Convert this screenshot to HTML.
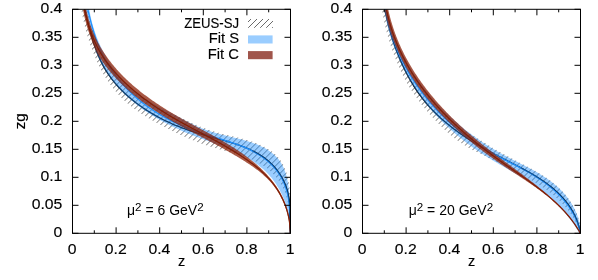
<!DOCTYPE html>
<html><head><meta charset="utf-8"><title>zg</title>
<style>
html,body{margin:0;padding:0;background:#fff;}
body{width:598px;height:280px;overflow:hidden;}
svg{display:block;}
text{font-family:"Liberation Sans",sans-serif;fill:#000;}
.tk{font-size:15px;stroke:#000;stroke-width:0.15px;}
.mu{font-size:14px;}
.sup{font-size:11.6px;}
</style></head><body>
<svg width="598" height="280" viewBox="0 0 598 280">
<rect width="598" height="280" fill="#fff"/>
<defs>
<pattern id="hatch" patternUnits="userSpaceOnUse" width="6" height="6" x="0.00" y="0">
<path d="M-1 7L7 -1M-1 1L1 -1M5 7L7 5" stroke="#5a5a5a" stroke-width="0.9" fill="none"/>
</pattern>
<pattern id="hatch1" patternUnits="userSpaceOnUse" width="6" height="6" x="3.40" y="0">
<path d="M-1 7L7 -1M-1 1L1 -1M5 7L7 5" stroke="#5a5a5a" stroke-width="0.9" fill="none"/>
</pattern>
<pattern id="hatch2" patternUnits="userSpaceOnUse" width="6" height="6" x="4.50" y="0">
<path d="M-1 7L7 -1M-1 1L1 -1M5 7L7 5" stroke="#5a5a5a" stroke-width="0.9" fill="none"/>
</pattern>
</defs>
<clipPath id="clip1"><rect x="72.50" y="9.30" width="218.00" height="224.00"/></clipPath>
<clipPath id="zclip1"><polygon points="87.82,9.55 88.03,10.83 88.26,12.11 88.50,13.39 88.75,14.67 89.01,15.95 89.28,17.22 89.56,18.49 89.86,19.76 90.17,21.03 90.48,22.29 90.81,23.55 91.15,24.81 91.51,26.07 91.87,27.32 92.24,28.57 92.63,29.81 93.03,31.05 93.43,32.29 93.85,33.52 94.28,34.75 94.72,35.98 95.18,37.20 95.64,38.42 96.11,39.63 96.60,40.84 97.10,42.04 97.60,43.24 98.12,44.43 98.65,45.62 99.19,46.80 99.74,47.98 100.30,49.15 100.88,50.32 101.46,51.48 102.05,52.63 102.66,53.78 103.27,54.92 103.90,56.06 104.54,57.19 105.18,58.31 105.84,59.43 106.51,60.54 107.19,61.64 107.88,62.74 108.58,63.83 109.29,64.91 110.01,65.99 110.74,67.05 111.48,68.11 112.24,69.17 113.00,70.21 113.77,71.25 114.56,72.28 115.35,73.30 116.15,74.31 116.97,75.31 117.79,76.31 118.62,77.30 119.47,78.27 120.32,79.24 121.19,80.20 122.06,81.15 122.95,82.09 123.84,83.03 124.75,83.95 125.66,84.86 126.59,85.76 127.52,86.66 128.46,87.54 129.42,88.41 130.38,89.28 131.36,90.13 132.34,90.97 133.33,91.80 134.34,92.62 135.35,93.43 136.37,94.23 137.40,95.02 138.45,95.79 139.50,96.56 140.56,97.31 141.63,98.05 142.70,98.79 143.79,99.51 144.88,100.22 145.97,100.92 147.08,101.61 148.20,102.28 149.32,102.94 150.46,103.58 151.60,104.21 152.76,104.82 153.92,105.42 155.08,106.01 156.25,106.59 157.43,107.16 158.61,107.72 159.79,108.27 160.98,108.82 162.17,109.36 163.36,109.89 164.55,110.42 165.75,110.95 166.94,111.47 168.14,111.99 169.33,112.51 170.52,113.03 171.72,113.55 172.91,114.07 174.10,114.59 175.28,115.12 176.47,115.64 177.65,116.17 178.82,116.71 180.00,117.24 181.17,117.78 182.33,118.31 183.50,118.85 184.66,119.39 185.81,119.94 186.97,120.48 188.12,121.02 189.27,121.56 190.41,122.10 191.56,122.64 192.70,123.18 193.84,123.71 194.98,124.24 196.12,124.77 197.26,125.28 198.40,125.78 199.55,126.27 200.70,126.75 201.86,127.21 203.02,127.67 204.18,128.11 205.35,128.54 206.52,128.96 207.70,129.37 208.88,129.77 210.07,130.16 211.26,130.55 212.46,130.92 213.66,131.29 214.86,131.65 216.08,132.00 217.29,132.35 218.51,132.69 219.74,133.02 220.97,133.35 222.21,133.68 223.45,134.00 224.70,134.31 225.96,134.63 227.22,134.94 228.48,135.25 229.75,135.56 231.02,135.86 232.30,136.17 233.58,136.48 234.87,136.79 236.15,137.11 237.44,137.42 238.73,137.75 240.02,138.07 241.30,138.41 242.59,138.75 243.87,139.09 245.15,139.45 246.43,139.82 247.70,140.19 248.97,140.58 250.23,140.97 251.49,141.39 252.74,141.81 253.99,142.25 255.22,142.70 256.45,143.17 257.67,143.66 258.88,144.16 260.08,144.68 261.26,145.23 262.44,145.79 263.60,146.37 264.75,146.98 265.88,147.60 267.00,148.25 268.11,148.93 269.19,149.62 270.26,150.34 271.30,151.09 272.32,151.86 273.32,152.66 274.30,153.48 275.24,154.32 276.16,155.20 277.05,156.10 277.91,157.02 278.74,157.98 279.53,158.96 280.29,159.97 281.02,161.01 281.70,162.07 282.36,163.15 282.98,164.26 283.57,165.39 284.12,166.53 284.65,167.70 285.14,168.88 285.61,170.08 286.05,171.30 286.46,172.53 286.84,173.77 287.20,175.03 287.54,176.30 287.85,177.58 288.14,178.86 288.40,180.16 288.65,181.46 288.87,182.77 289.08,184.09 289.27,185.40 289.44,186.73 289.59,188.05 289.73,189.38 289.85,190.70 289.96,192.03 290.05,193.35 290.14,194.68 290.21,196.00 290.27,197.32 290.32,198.64 290.36,199.96 290.39,201.28 290.42,202.60 290.44,203.91 290.45,205.22 290.46,206.53 290.47,207.84 290.47,209.15 290.47,210.45 290.47,211.75 290.47,213.05 290.47,214.34 290.47,215.63 290.47,216.92 290.48,218.20 290.49,219.48 290.50,220.75 290.52,222.02 290.55,223.29 290.58,224.55 290.62,225.81 290.68,227.06 290.74,228.30 290.81,229.55 290.89,230.78 290.99,232.01 291.10,233.24 290.40,233.30 290.37,232.07 290.34,230.83 290.31,229.58 290.28,228.33 290.25,227.06 290.21,225.79 290.16,224.52 290.11,223.23 290.06,221.95 289.99,220.66 289.92,219.37 289.84,218.07 289.75,216.78 289.65,215.48 289.54,214.18 289.41,212.89 289.28,211.60 289.13,210.30 288.96,209.02 288.78,207.73 288.58,206.45 288.37,205.18 288.14,203.91 287.89,202.65 287.62,201.40 287.33,200.15 287.02,198.92 286.69,197.69 286.33,196.48 285.95,195.27 285.55,194.08 285.13,192.90 284.67,191.74 284.20,190.59 283.70,189.45 283.18,188.32 282.63,187.21 282.06,186.12 281.47,185.04 280.86,183.97 280.22,182.92 279.56,181.88 278.87,180.86 278.17,179.85 277.44,178.86 276.70,177.89 275.93,176.93 275.13,175.99 274.32,175.07 273.49,174.16 272.63,173.28 271.76,172.40 270.87,171.55 269.95,170.72 269.02,169.90 268.06,169.10 267.09,168.32 266.10,167.55 265.08,166.82 264.05,166.10 262.99,165.42 261.92,164.75 260.83,164.10 259.73,163.48 258.62,162.87 257.49,162.28 256.36,161.70 255.21,161.14 254.06,160.60 252.90,160.06 251.74,159.54 250.56,159.03 249.38,158.53 248.19,158.06 246.99,157.61 245.78,157.17 244.56,156.75 243.34,156.34 242.12,155.94 240.89,155.55 239.66,155.17 238.43,154.80 237.20,154.42 235.97,154.05 234.74,153.69 233.52,153.32 232.30,152.95 231.07,152.58 229.85,152.21 228.63,151.86 227.41,151.51 226.18,151.16 224.96,150.81 223.73,150.47 222.51,150.13 221.28,149.79 220.06,149.45 218.84,149.11 217.62,148.77 216.40,148.42 215.18,148.07 213.96,147.72 212.74,147.36 211.53,146.99 210.31,146.62 209.10,146.23 207.89,145.84 206.69,145.44 205.49,145.02 204.29,144.60 203.09,144.16 201.90,143.72 200.70,143.28 199.50,142.83 198.31,142.38 197.11,141.92 195.92,141.45 194.73,140.98 193.54,140.51 192.36,140.03 191.17,139.54 189.99,139.05 188.81,138.55 187.63,138.05 186.46,137.54 185.28,137.03 184.11,136.51 182.94,135.99 181.77,135.47 180.60,134.93 179.44,134.40 178.28,133.85 177.11,133.31 175.96,132.75 174.80,132.20 173.64,131.63 172.49,131.07 171.34,130.50 170.19,129.92 169.04,129.34 167.90,128.75 166.75,128.16 165.61,127.57 164.46,126.97 163.32,126.37 162.18,125.77 161.04,125.16 159.91,124.55 158.77,123.93 157.63,123.32 156.50,122.69 155.36,122.07 154.22,121.44 153.08,120.80 151.95,120.15 150.81,119.50 149.68,118.85 148.55,118.18 147.42,117.51 146.29,116.83 145.17,116.15 144.05,115.45 142.93,114.75 141.82,114.04 140.72,113.31 139.62,112.58 138.53,111.84 137.44,111.09 136.36,110.32 135.28,109.55 134.22,108.76 133.16,107.97 132.11,107.16 131.07,106.33 130.04,105.50 129.02,104.65 128.01,103.79 127.01,102.93 126.03,102.05 125.05,101.16 124.09,100.25 123.14,99.34 122.20,98.42 121.27,97.49 120.36,96.55 119.45,95.59 118.56,94.63 117.67,93.66 116.80,92.68 115.94,91.69 115.09,90.69 114.26,89.68 113.43,88.67 112.62,87.64 111.81,86.61 111.02,85.56 110.24,84.51 109.47,83.45 108.71,82.38 107.97,81.31 107.23,80.23 106.51,79.13 105.80,78.04 105.10,76.93 104.41,75.81 103.74,74.69 103.08,73.56 102.43,72.42 101.80,71.27 101.18,70.12 100.58,68.96 99.98,67.79 99.40,66.62 98.83,65.44 98.26,64.26 97.71,63.07 97.17,61.88 96.64,60.68 96.11,59.48 95.60,58.28 95.09,57.08 94.58,55.87 94.09,54.66 93.60,53.45 93.11,52.23 92.63,51.02 92.16,49.80 91.70,48.58 91.24,47.35 90.80,46.12 90.36,44.89 89.93,43.66 89.52,42.42 89.11,41.19 88.70,39.95 88.31,38.70 87.93,37.46 87.55,36.21 87.18,34.96 86.82,33.71 86.47,32.46 86.12,31.21 85.78,29.96 85.45,28.70 85.13,27.45 84.82,26.19 84.51,24.94 84.21,23.68 83.91,22.42 83.63,21.17 83.35,19.91 83.08,18.65 82.81,17.39 82.55,16.14 82.30,14.88 82.05,13.63 81.81,12.37 81.58,11.12 81.35,9.87"/></clipPath>
<g clip-path="url(#clip1)">
<g clip-path="url(#zclip1)"><rect x="67.50" y="0" width="228.00" height="280" fill="url(#hatch1)"/></g>
<polyline points="84.50,9.30 84.80,10.52 85.11,11.74 85.41,12.97 85.72,14.20 86.03,15.43 86.33,16.67 86.64,17.90 86.95,19.15 87.27,20.39 87.58,21.64 87.90,22.89 88.22,24.13 88.55,25.39 88.88,26.64 89.21,27.89 89.55,29.14 89.89,30.40 90.23,31.65 90.59,32.90 90.94,34.15 91.31,35.40 91.67,36.65 92.05,37.90 92.43,39.15 92.82,40.39 93.22,41.63 93.62,42.87 94.03,44.11 94.45,45.34 94.88,46.57 95.32,47.80 95.76,49.02 96.22,50.24 96.68,51.45 97.16,52.66 97.65,53.87 98.14,55.07 98.65,56.26 99.17,57.45 99.70,58.63 100.24,59.80 100.79,60.97 101.36,62.13 101.94,63.28 102.53,64.43 103.13,65.57 103.75,66.70 104.38,67.82 105.03,68.93 105.69,70.04 106.37,71.13 107.06,72.22 107.76,73.29 108.48,74.36 109.21,75.42 109.95,76.47 110.71,77.51 111.48,78.54 112.27,79.57 113.06,80.58 113.87,81.58 114.69,82.58 115.52,83.57 116.37,84.54 117.22,85.51 118.08,86.47 118.96,87.42 119.85,88.36 120.74,89.29 121.65,90.22 122.56,91.13 123.49,92.03 124.42,92.93 125.36,93.82 126.32,94.69 127.28,95.56 128.24,96.42 129.22,97.27 130.20,98.11 131.19,98.94 132.19,99.76 133.20,100.58 134.21,101.38 135.23,102.18 136.25,102.96 137.28,103.74 138.32,104.51 139.36,105.27 140.41,106.02 141.46,106.76 142.51,107.49 143.57,108.21 144.64,108.93 145.71,109.63 146.78,110.33 147.86,111.01 148.94,111.69 150.02,112.36 151.11,113.02 152.20,113.67 153.30,114.31 154.40,114.95 155.50,115.57 156.61,116.19 157.72,116.80 158.84,117.40 159.96,117.99 161.08,118.58 162.21,119.16 163.35,119.73 164.48,120.29 165.62,120.84 166.77,121.39 167.92,121.93 169.07,122.46 170.23,122.98 171.39,123.50 172.55,124.01 173.72,124.51 174.89,125.01 176.07,125.50 177.25,125.98 178.44,126.46 179.63,126.93 180.82,127.39 182.02,127.85 183.22,128.30 184.43,128.74 185.64,129.18 186.85,129.61 188.07,130.03 189.29,130.45 190.52,130.86 191.75,131.27 192.99,131.67 194.23,132.07 195.47,132.46 196.72,132.84 197.97,133.22 199.23,133.60 200.49,133.97 201.75,134.33 203.01,134.69 204.28,135.05 205.56,135.41 206.83,135.76 208.10,136.11 209.38,136.46 210.66,136.81 211.94,137.15 213.22,137.50 214.50,137.85 215.78,138.19 217.05,138.54 218.33,138.89 219.61,139.24 220.89,139.59 222.16,139.94 223.43,140.30 224.70,140.66 225.97,141.02 227.24,141.39 228.50,141.77 229.75,142.14 231.01,142.53 232.26,142.92 233.50,143.31 234.74,143.71 235.98,144.12 237.21,144.54 238.44,144.96 239.65,145.39 240.87,145.83 242.07,146.28 243.27,146.74 244.46,147.21 245.64,147.69 246.82,148.18 247.99,148.68 249.15,149.20 250.30,149.72 251.44,150.26 252.57,150.81 253.69,151.37 254.80,151.95 255.90,152.54 256.99,153.15 258.07,153.77 259.14,154.41 260.20,155.06 261.24,155.73 262.28,156.41 263.29,157.12 264.30,157.83 265.29,158.57 266.27,159.33 267.24,160.10 268.19,160.89 269.13,161.71 270.05,162.54 270.96,163.39 271.85,164.27 272.73,165.16 273.59,166.08 274.43,167.02 275.26,167.98 276.07,168.96 276.86,169.96 277.64,170.99 278.39,172.03 279.13,173.09 279.84,174.17 280.54,175.27 281.21,176.39 281.86,177.52 282.49,178.66 283.09,179.82 283.67,181.00 284.23,182.18 284.76,183.38 285.27,184.59 285.75,185.81 286.20,187.04 286.62,188.29 287.02,189.54 287.39,190.79 287.73,192.06 288.04,193.33 288.32,194.61 288.57,195.89 288.79,197.18 288.98,198.47 289.15,199.76 289.29,201.06 289.41,202.36 289.51,203.66 289.59,204.97 289.66,206.28 289.71,207.58 289.75,208.89 289.77,210.20 289.79,211.51 289.80,212.82 289.81,214.12 289.81,215.43 289.81,216.73 289.81,218.03 289.82,219.33 289.82,220.63 289.83,221.92 289.85,223.21 289.88,224.49 289.92,225.77 289.98,227.04 290.04,228.30 290.13,229.56 290.23,230.82 290.35,232.06 290.50,233.30" fill="none" stroke="#000" stroke-width="1.35"/>
<polygon points="89.30,9.30 89.51,10.57 89.74,11.84 89.97,13.11 90.22,14.38 90.48,15.64 90.75,16.90 91.03,18.16 91.32,19.42 91.62,20.67 91.94,21.92 92.26,23.17 92.60,24.41 92.95,25.66 93.31,26.90 93.68,28.13 94.06,29.36 94.45,30.59 94.86,31.81 95.27,33.04 95.70,34.25 96.13,35.46 96.58,36.67 97.04,37.88 97.51,39.08 97.99,40.27 98.48,41.46 98.98,42.65 99.50,43.83 100.02,45.00 100.55,46.17 101.10,47.34 101.65,48.49 102.22,49.65 102.80,50.80 103.39,51.94 103.98,53.07 104.59,54.20 105.21,55.33 105.84,56.45 106.48,57.56 107.13,58.66 107.79,59.76 108.46,60.85 109.15,61.94 109.84,63.01 110.54,64.08 111.25,65.15 111.98,66.20 112.71,67.25 113.45,68.29 114.21,69.32 114.97,70.35 115.74,71.36 116.53,72.37 117.32,73.37 118.13,74.36 118.94,75.35 119.76,76.32 120.60,77.29 121.44,78.24 122.30,79.19 123.16,80.13 124.03,81.06 124.92,81.98 125.81,82.89 126.71,83.79 127.63,84.69 128.55,85.57 129.48,86.44 130.42,87.30 131.38,88.15 132.34,89.00 133.31,89.83 134.29,90.65 135.28,91.46 136.28,92.26 137.29,93.04 138.31,93.82 139.33,94.59 140.37,95.34 141.42,96.09 142.47,96.82 143.54,97.54 144.61,98.25 145.69,98.96 146.78,99.65 147.87,100.34 148.97,101.01 150.08,101.68 151.19,102.34 152.31,103.00 153.43,103.65 154.56,104.29 155.69,104.92 156.83,105.56 157.96,106.18 159.11,106.80 160.25,107.42 161.40,108.03 162.55,108.64 163.70,109.25 164.85,109.86 166.00,110.46 167.16,111.06 168.31,111.66 169.46,112.26 170.62,112.86 171.77,113.46 172.92,114.05 174.06,114.65 175.21,115.25 176.35,115.86 177.49,116.46 178.63,117.06 179.77,117.66 180.91,118.27 182.04,118.87 183.18,119.46 184.31,120.06 185.45,120.64 186.58,121.23 187.72,121.81 188.85,122.38 189.99,122.95 191.13,123.51 192.27,124.07 193.41,124.61 194.56,125.15 195.70,125.68 196.85,126.19 198.01,126.70 199.16,127.19 200.32,127.67 201.49,128.14 202.66,128.60 203.83,129.05 205.01,129.48 206.19,129.91 207.37,130.32 208.56,130.72 209.76,131.12 210.96,131.50 212.16,131.88 213.37,132.25 214.58,132.61 215.80,132.96 217.02,133.31 218.25,133.65 219.48,133.99 220.72,134.32 221.96,134.64 223.21,134.97 224.46,135.28 225.71,135.60 226.98,135.91 228.24,136.22 229.52,136.53 230.79,136.84 232.07,137.14 233.35,137.45 234.63,137.76 235.92,138.08 237.20,138.39 238.48,138.72 239.77,139.04 241.05,139.37 242.33,139.71 243.61,140.06 244.88,140.41 246.15,140.77 247.42,141.15 248.68,141.53 249.93,141.93 251.18,142.33 252.42,142.75 253.65,143.19 254.87,143.64 256.09,144.10 257.29,144.58 258.49,145.08 259.67,145.59 260.84,146.13 262.00,146.68 263.14,147.26 264.28,147.85 265.39,148.47 266.49,149.11 267.58,149.77 268.64,150.45 269.69,151.16 270.71,151.89 271.72,152.65 272.69,153.42 273.65,154.23 274.57,155.05 275.47,155.91 276.34,156.78 277.18,157.69 277.98,158.61 278.76,159.57 279.50,160.55 280.20,161.56 280.87,162.59 281.51,163.65 282.12,164.73 282.69,165.83 283.24,166.95 283.75,168.09 284.24,169.25 284.70,170.42 285.13,171.62 285.54,172.83 285.92,174.05 286.28,175.29 286.61,176.53 286.92,177.79 287.21,179.06 287.48,180.34 287.72,181.63 287.95,182.93 288.16,184.23 288.35,185.53 288.52,186.84 288.68,188.15 288.82,189.47 288.94,190.78 289.06,192.10 289.16,193.42 289.25,194.73 289.32,196.05 289.39,197.36 289.44,198.68 289.49,199.99 289.53,201.30 289.57,202.62 289.59,203.93 289.61,205.24 289.63,206.54 289.65,207.85 289.66,209.15 289.67,210.46 289.67,211.76 289.68,213.05 289.69,214.35 289.70,215.64 289.72,216.92 289.73,218.21 289.75,219.49 289.78,220.77 289.81,222.04 289.85,223.31 289.89,224.58 289.95,225.84 290.01,227.09 290.09,228.35 290.17,229.59 290.27,230.83 290.38,232.07 290.50,233.30 289.50,233.26 289.55,232.02 289.59,230.78 289.60,229.55 289.59,228.31 289.56,227.07 289.52,225.82 289.45,224.58 289.37,223.34 289.26,222.10 289.14,220.86 289.00,219.62 288.84,218.38 288.66,217.14 288.46,215.91 288.24,214.67 288.01,213.44 287.75,212.21 287.48,210.99 287.19,209.77 286.88,208.56 286.55,207.34 286.21,206.14 285.84,204.94 285.46,203.74 285.07,202.55 284.65,201.37 284.22,200.19 283.77,199.02 283.30,197.85 282.81,196.70 282.31,195.55 281.79,194.41 281.25,193.28 280.70,192.16 280.13,191.04 279.55,189.94 278.94,188.85 278.32,187.77 277.69,186.69 277.04,185.63 276.37,184.58 275.69,183.55 274.99,182.52 274.27,181.51 273.54,180.51 272.80,179.52 272.04,178.55 271.26,177.59 270.47,176.64 269.66,175.71 268.84,174.79 268.00,173.89 267.15,173.00 266.28,172.13 265.40,171.27 264.51,170.42 263.60,169.59 262.68,168.77 261.75,167.96 260.80,167.17 259.85,166.39 258.88,165.63 257.90,164.87 256.91,164.13 255.91,163.40 254.90,162.68 253.88,161.98 252.85,161.29 251.81,160.60 250.76,159.93 249.70,159.28 248.64,158.63 247.57,157.99 246.49,157.37 245.40,156.76 244.31,156.15 243.21,155.56 242.11,154.98 241.00,154.40 239.88,153.84 238.76,153.29 237.64,152.75 236.51,152.21 235.37,151.69 234.24,151.18 233.10,150.67 231.95,150.17 230.81,149.68 229.66,149.20 228.50,148.72 227.35,148.25 226.19,147.79 225.03,147.33 223.86,146.88 222.70,146.43 221.53,145.98 220.36,145.54 219.19,145.11 218.01,144.67 216.84,144.24 215.66,143.81 214.48,143.39 213.30,142.96 212.12,142.54 210.93,142.11 209.75,141.69 208.57,141.26 207.38,140.84 206.20,140.41 205.01,139.98 203.83,139.55 202.64,139.12 201.45,138.68 200.27,138.24 199.08,137.80 197.90,137.35 196.72,136.90 195.53,136.45 194.35,135.99 193.17,135.52 191.99,135.06 190.81,134.58 189.64,134.11 188.46,133.63 187.29,133.14 186.12,132.65 184.95,132.16 183.78,131.66 182.61,131.15 181.45,130.64 180.29,130.13 179.13,129.61 177.97,129.08 176.81,128.55 175.66,128.02 174.51,127.48 173.37,126.93 172.22,126.38 171.08,125.83 169.94,125.26 168.81,124.70 167.68,124.12 166.55,123.54 165.42,122.96 164.30,122.37 163.18,121.77 162.07,121.16 160.96,120.55 159.85,119.94 158.75,119.32 157.65,118.69 156.56,118.05 155.47,117.41 154.38,116.76 153.30,116.11 152.22,115.44 151.15,114.77 150.09,114.10 149.02,113.42 147.97,112.73 146.92,112.03 145.87,111.32 144.83,110.61 143.79,109.89 142.76,109.17 141.74,108.43 140.72,107.69 139.70,106.94 138.69,106.19 137.69,105.42 136.70,104.65 135.71,103.87 134.72,103.08 133.75,102.29 132.78,101.48 131.81,100.67 130.86,99.85 129.91,99.02 128.96,98.19 128.03,97.34 127.10,96.49 126.18,95.63 125.26,94.76 124.36,93.88 123.46,93.00 122.57,92.11 121.69,91.21 120.82,90.30 119.96,89.38 119.10,88.46 118.25,87.53 117.42,86.59 116.59,85.64 115.77,84.68 114.96,83.72 114.16,82.75 113.37,81.77 112.60,80.79 111.83,79.79 111.07,78.79 110.32,77.78 109.58,76.76 108.85,75.74 108.14,74.71 107.43,73.67 106.74,72.62 106.06,71.56 105.39,70.50 104.73,69.43 104.08,68.35 103.45,67.27 102.82,66.18 102.21,65.07 101.62,63.97 101.03,62.85 100.46,61.73 99.90,60.60 99.35,59.46 98.82,58.32 98.30,57.17 97.79,56.01 97.30,54.84 96.82,53.67 96.36,52.48 95.91,51.30 95.47,50.10 95.05,48.90 94.64,47.69 94.24,46.48 93.86,45.27 93.48,44.05 93.12,42.82 92.77,41.59 92.42,40.36 92.09,39.12 91.76,37.89 91.44,36.65 91.13,35.40 90.83,34.16 90.53,32.91 90.24,31.67 89.95,30.42 89.67,29.17 89.39,27.93 89.12,26.68 88.85,25.44 88.59,24.19 88.32,22.95 88.06,21.71 87.80,20.47 87.54,19.24 87.28,18.01 87.02,16.78 86.76,15.55 86.50,14.33 86.23,13.12 85.96,11.91 85.70,10.70 85.42,9.50" fill="rgb(30,144,255)" fill-opacity="0.45"/>
<polyline points="87.80,9.30 88.09,10.53 88.38,11.77 88.67,13.00 88.97,14.23 89.27,15.46 89.57,16.69 89.87,17.92 90.18,19.15 90.50,20.38 90.82,21.61 91.14,22.83 91.47,24.06 91.80,25.28 92.14,26.50 92.49,27.72 92.84,28.94 93.20,30.16 93.56,31.37 93.94,32.58 94.32,33.79 94.70,34.99 95.10,36.20 95.50,37.40 95.91,38.60 96.33,39.79 96.76,40.98 97.20,42.17 97.65,43.35 98.11,44.53 98.57,45.71 99.05,46.88 99.54,48.05 100.04,49.21 100.55,50.37 101.08,51.53 101.61,52.68 102.16,53.83 102.72,54.97 103.29,56.10 103.87,57.23 104.47,58.36 105.07,59.48 105.70,60.60 106.33,61.71 106.97,62.81 107.63,63.91 108.29,65.00 108.97,66.08 109.66,67.16 110.35,68.24 111.06,69.30 111.78,70.36 112.51,71.42 113.25,72.46 114.00,73.50 114.76,74.53 115.53,75.56 116.30,76.58 117.09,77.59 117.88,78.59 118.69,79.58 119.50,80.57 120.32,81.55 121.15,82.52 121.98,83.48 122.83,84.43 123.68,85.38 124.54,86.32 125.40,87.24 126.27,88.16 127.15,89.07 128.04,89.98 128.94,90.87 129.84,91.75 130.74,92.63 131.66,93.50 132.58,94.35 133.50,95.20 134.44,96.05 135.38,96.88 136.33,97.70 137.28,98.52 138.24,99.33 139.20,100.13 140.17,100.92 141.15,101.71 142.14,102.48 143.13,103.25 144.12,104.01 145.12,104.76 146.13,105.50 147.14,106.24 148.16,106.97 149.19,107.69 150.22,108.40 151.25,109.11 152.29,109.80 153.34,110.49 154.39,111.17 155.45,111.85 156.51,112.52 157.58,113.18 158.65,113.83 159.73,114.47 160.82,115.11 161.90,115.74 163.00,116.36 164.10,116.98 165.20,117.59 166.31,118.19 167.42,118.78 168.53,119.37 169.66,119.95 170.78,120.52 171.91,121.09 173.05,121.65 174.19,122.20 175.33,122.74 176.48,123.28 177.63,123.82 178.78,124.34 179.94,124.86 181.11,125.37 182.28,125.88 183.45,126.38 184.62,126.87 185.80,127.36 186.99,127.84 188.17,128.31 189.36,128.78 190.56,129.24 191.75,129.69 192.96,130.14 194.16,130.59 195.37,131.02 196.58,131.45 197.79,131.88 199.01,132.30 200.23,132.71 201.45,133.12 202.68,133.52 203.91,133.92 205.14,134.31 206.37,134.70 207.60,135.08 208.84,135.47 210.07,135.85 211.31,136.22 212.55,136.60 213.79,136.97 215.02,137.35 216.26,137.72 217.50,138.09 218.74,138.46 219.97,138.84 221.21,139.21 222.44,139.59 223.67,139.97 224.90,140.35 226.13,140.74 227.35,141.12 228.57,141.52 229.79,141.91 231.01,142.31 232.22,142.72 233.43,143.13 234.63,143.55 235.83,143.97 237.03,144.40 238.22,144.84 239.40,145.29 240.58,145.74 241.75,146.21 242.92,146.68 244.08,147.16 245.24,147.65 246.39,148.15 247.53,148.66 248.66,149.19 249.79,149.72 250.91,150.27 252.02,150.83 253.12,151.40 254.22,151.99 255.30,152.59 256.38,153.21 257.45,153.84 258.50,154.48 259.55,155.14 260.59,155.82 261.62,156.51 262.63,157.22 263.64,157.94 264.63,158.69 265.62,159.45 266.59,160.23 267.55,161.03 268.50,161.85 269.43,162.69 270.35,163.54 271.25,164.41 272.13,165.30 273.00,166.21 273.85,167.13 274.68,168.08 275.49,169.04 276.29,170.01 277.06,171.00 277.81,172.01 278.53,173.04 279.23,174.08 279.91,175.14 280.56,176.22 281.19,177.31 281.80,178.41 282.37,179.53 282.93,180.67 283.46,181.81 283.97,182.97 284.45,184.14 284.91,185.33 285.34,186.52 285.76,187.73 286.15,188.94 286.52,190.17 286.86,191.40 287.19,192.64 287.49,193.89 287.77,195.15 288.03,196.41 288.27,197.68 288.49,198.95 288.69,200.23 288.88,201.52 289.05,202.81 289.20,204.10 289.34,205.39 289.46,206.69 289.57,207.98 289.67,209.28 289.76,210.58 289.84,211.88 289.91,213.17 289.97,214.47 290.02,215.76 290.07,217.05 290.11,218.34 290.15,219.62 290.18,220.90 290.21,222.17 290.24,223.44 290.26,224.70 290.29,225.95 290.32,227.20 290.35,228.44 290.38,229.67 290.41,230.89 290.45,232.10 290.50,233.30" fill="none" stroke="rgb(30,144,255)" stroke-width="1.25"/>
<polyline points="252.57,150.81 253.69,151.37 254.80,151.95 255.90,152.54 256.99,153.15 258.07,153.77 259.14,154.41 260.20,155.06 261.24,155.73 262.28,156.41 263.29,157.12 264.30,157.83 265.29,158.57 266.27,159.33 267.24,160.10 268.19,160.89 269.13,161.71 270.05,162.54 270.96,163.39 271.85,164.27 272.73,165.16 273.59,166.08 274.43,167.02 275.26,167.98 276.07,168.96 276.86,169.96 277.64,170.99 278.39,172.03 279.13,173.09 279.84,174.17 280.54,175.27 281.21,176.39 281.86,177.52 282.49,178.66 283.09,179.82 283.67,181.00 284.23,182.18 284.76,183.38 285.27,184.59 285.75,185.81 286.20,187.04 286.62,188.29 287.02,189.54 287.39,190.79 287.73,192.06 288.04,193.33 288.32,194.61 288.57,195.89 288.79,197.18 288.98,198.47 289.15,199.76 289.29,201.06 289.41,202.36 289.51,203.66 289.59,204.97 289.66,206.28 289.71,207.58 289.75,208.89 289.77,210.20 289.79,211.51 289.80,212.82 289.81,214.12 289.81,215.43 289.81,216.73 289.81,218.03 289.82,219.33 289.82,220.63 289.83,221.92 289.85,223.21 289.88,224.49 289.92,225.77 289.98,227.04 290.04,228.30 290.13,229.56 290.23,230.82 290.35,232.06 290.50,233.30" fill="none" stroke="#000" stroke-opacity="0.6" stroke-width="0.8"/>
<polygon points="86.30,9.30 86.56,10.57 86.83,11.84 87.11,13.10 87.40,14.35 87.71,15.60 88.02,16.83 88.35,18.06 88.69,19.28 89.04,20.50 89.41,21.70 89.78,22.90 90.17,24.09 90.57,25.27 90.97,26.45 91.39,27.62 91.82,28.78 92.27,29.93 92.72,31.08 93.18,32.22 93.66,33.35 94.14,34.47 94.63,35.59 95.14,36.70 95.65,37.81 96.18,38.90 96.71,39.99 97.26,41.07 97.81,42.15 98.38,43.22 98.95,44.28 99.54,45.34 100.13,46.38 100.73,47.43 101.35,48.46 101.97,49.49 102.60,50.51 103.24,51.53 103.89,52.54 104.54,53.54 105.21,54.53 105.89,55.52 106.57,56.51 107.26,57.49 107.96,58.46 108.67,59.42 109.39,60.38 110.11,61.33 110.85,62.28 111.59,63.22 112.34,64.15 113.09,65.08 113.86,66.00 114.63,66.92 115.41,67.83 116.20,68.74 116.99,69.64 117.79,70.53 118.60,71.42 119.42,72.30 120.24,73.18 121.07,74.05 121.91,74.91 122.75,75.77 123.60,76.63 124.46,77.48 125.32,78.32 126.19,79.16 127.07,79.99 127.95,80.82 128.83,81.65 129.73,82.46 130.63,83.28 131.53,84.08 132.44,84.89 133.36,85.68 134.28,86.48 135.21,87.26 136.14,88.05 137.08,88.83 138.02,89.60 138.97,90.37 139.93,91.13 140.88,91.89 141.85,92.65 142.82,93.40 143.79,94.14 144.76,94.88 145.75,95.62 146.73,96.35 147.72,97.08 148.72,97.80 149.71,98.52 150.72,99.24 151.72,99.95 152.73,100.65 153.75,101.36 154.76,102.05 155.78,102.75 156.81,103.44 157.83,104.12 158.87,104.81 159.90,105.49 160.94,106.16 161.98,106.83 163.02,107.50 164.06,108.16 165.11,108.82 166.16,109.48 167.22,110.13 168.27,110.78 169.33,111.42 170.39,112.06 171.46,112.70 172.52,113.34 173.59,113.97 174.66,114.60 175.73,115.22 176.80,115.84 177.87,116.46 178.95,117.08 180.02,117.69 181.10,118.30 182.18,118.91 183.26,119.51 184.34,120.11 185.43,120.71 186.51,121.30 187.60,121.90 188.68,122.49 189.77,123.08 190.85,123.67 191.94,124.26 193.03,124.84 194.11,125.43 195.20,126.01 196.29,126.59 197.38,127.18 198.46,127.76 199.55,128.34 200.64,128.92 201.73,129.50 202.81,130.08 203.90,130.66 204.98,131.25 206.07,131.83 207.15,132.41 208.23,133.00 209.31,133.58 210.39,134.17 211.47,134.75 212.55,135.34 213.63,135.93 214.70,136.53 215.78,137.12 216.85,137.72 217.92,138.32 218.99,138.92 220.05,139.52 221.12,140.13 222.18,140.74 223.24,141.35 224.30,141.97 225.35,142.59 226.41,143.21 227.46,143.84 228.50,144.47 229.55,145.11 230.59,145.75 231.63,146.39 232.67,147.04 233.70,147.69 234.73,148.35 235.76,149.01 236.78,149.68 237.80,150.35 238.81,151.03 239.83,151.72 240.84,152.41 241.84,153.10 242.84,153.80 243.84,154.51 244.83,155.23 245.82,155.95 246.80,156.67 247.78,157.41 248.75,158.14 249.71,158.89 250.67,159.64 251.63,160.40 252.57,161.16 253.51,161.94 254.45,162.71 255.38,163.50 256.30,164.29 257.21,165.09 258.12,165.90 259.01,166.71 259.90,167.53 260.78,168.35 261.66,169.19 262.52,170.03 263.38,170.88 264.22,171.73 265.06,172.60 265.89,173.47 266.71,174.35 267.51,175.23 268.31,176.13 269.10,177.03 269.88,177.94 270.64,178.85 271.40,179.78 272.14,180.71 272.87,181.65 273.59,182.60 274.30,183.56 275.00,184.52 275.68,185.50 276.36,186.48 277.01,187.47 277.66,188.47 278.29,189.48 278.91,190.49 279.52,191.52 280.11,192.55 280.69,193.59 281.25,194.64 281.80,195.70 282.34,196.77 282.86,197.85 283.36,198.94 283.85,200.03 284.33,201.14 284.79,202.25 285.23,203.38 285.65,204.51 286.06,205.65 286.46,206.80 286.83,207.96 287.19,209.14 287.54,210.32 287.86,211.51 288.17,212.71 288.46,213.92 288.73,215.14 288.98,216.37 289.21,217.61 289.43,218.86 289.63,220.12 289.80,221.39 289.96,222.67 290.10,223.96 290.22,225.27 290.32,226.58 290.39,227.90 290.45,229.24 290.49,230.58 290.51,231.93 290.50,233.30 290.00,233.30 289.97,231.94 289.91,230.59 289.84,229.26 289.75,227.94 289.63,226.62 289.50,225.33 289.35,224.04 289.17,222.76 288.98,221.50 288.77,220.25 288.54,219.01 288.30,217.78 288.03,216.56 287.75,215.35 287.45,214.15 287.13,212.96 286.79,211.79 286.44,210.62 286.07,209.47 285.69,208.33 285.29,207.19 284.87,206.07 284.44,204.95 284.00,203.85 283.54,202.75 283.07,201.67 282.58,200.59 282.08,199.52 281.56,198.46 281.03,197.42 280.48,196.38 279.92,195.35 279.34,194.33 278.75,193.32 278.14,192.32 277.52,191.33 276.89,190.35 276.24,189.37 275.58,188.41 274.90,187.46 274.21,186.52 273.51,185.59 272.79,184.66 272.06,183.75 271.31,182.86 270.54,181.97 269.75,181.11 268.95,180.25 268.13,179.41 267.30,178.58 266.45,177.77 265.60,176.96 264.73,176.16 263.86,175.38 262.97,174.60 262.08,173.83 261.19,173.07 260.28,172.31 259.37,171.56 258.44,170.83 257.51,170.10 256.57,169.39 255.61,168.68 254.65,167.99 253.69,167.30 252.71,166.62 251.74,165.94 250.75,165.28 249.77,164.61 248.78,163.96 247.78,163.30 246.79,162.65 245.79,162.00 244.79,161.36 243.79,160.71 242.78,160.07 241.77,159.44 240.76,158.82 239.74,158.20 238.72,157.58 237.69,156.97 236.67,156.36 235.64,155.76 234.61,155.16 233.58,154.56 232.54,153.96 231.51,153.36 230.47,152.77 229.44,152.18 228.40,151.58 227.36,150.99 226.32,150.39 225.28,149.80 224.24,149.21 223.19,148.62 222.14,148.03 221.09,147.45 220.04,146.87 218.98,146.29 217.93,145.71 216.87,145.13 215.80,144.56 214.74,143.98 213.67,143.41 212.60,142.84 211.53,142.27 210.46,141.70 209.38,141.13 208.30,140.56 207.23,140.00 206.15,139.43 205.06,138.86 203.98,138.29 202.89,137.73 201.81,137.16 200.72,136.59 199.63,136.02 198.54,135.46 197.45,134.89 196.36,134.31 195.26,133.74 194.17,133.17 193.08,132.59 191.98,132.02 190.88,131.44 189.79,130.86 188.69,130.28 187.59,129.70 186.49,129.12 185.39,128.53 184.29,127.94 183.19,127.35 182.09,126.75 180.99,126.16 179.89,125.56 178.80,124.95 177.70,124.35 176.60,123.73 175.50,123.12 174.41,122.50 173.31,121.88 172.22,121.25 171.13,120.62 170.04,119.99 168.95,119.35 167.86,118.70 166.78,118.06 165.70,117.40 164.62,116.75 163.54,116.09 162.47,115.42 161.40,114.75 160.33,114.08 159.26,113.40 158.20,112.72 157.13,112.03 156.08,111.34 155.02,110.64 153.97,109.94 152.92,109.23 151.87,108.52 150.83,107.81 149.79,107.09 148.76,106.36 147.72,105.63 146.69,104.90 145.67,104.16 144.65,103.42 143.63,102.67 142.62,101.91 141.61,101.16 140.61,100.39 139.61,99.62 138.61,98.85 137.62,98.07 136.63,97.29 135.65,96.50 134.67,95.70 133.70,94.90 132.73,94.10 131.77,93.29 130.81,92.47 129.86,91.65 128.91,90.82 127.97,89.99 127.04,89.15 126.11,88.31 125.18,87.46 124.26,86.61 123.35,85.75 122.44,84.88 121.54,84.01 120.65,83.13 119.76,82.25 118.88,81.36 118.01,80.46 117.14,79.56 116.28,78.65 115.43,77.73 114.58,76.81 113.74,75.88 112.91,74.94 112.09,74.00 111.27,73.05 110.47,72.10 109.67,71.14 108.88,70.17 108.09,69.19 107.32,68.21 106.55,67.22 105.80,66.22 105.05,65.22 104.31,64.21 103.58,63.19 102.86,62.17 102.15,61.14 101.46,60.10 100.77,59.05 100.09,58.00 99.43,56.93 98.78,55.85 98.16,54.76 97.55,53.66 96.96,52.55 96.39,51.42 95.84,50.29 95.30,49.15 94.77,48.00 94.26,46.85 93.77,45.68 93.28,44.52 92.81,43.34 92.35,42.16 91.91,40.98 91.47,39.79 91.03,38.59 90.61,37.40 90.19,36.20 89.77,35.00 89.36,33.79 88.95,32.59 88.54,31.38 88.14,30.17 87.74,28.95 87.36,27.73 86.99,26.50 86.63,25.26 86.28,24.02 85.94,22.77 85.61,21.51 85.29,20.25 84.98,18.98 84.68,17.71 84.39,16.43 84.11,15.14 83.83,13.85 83.57,12.55 83.31,11.25 83.06,9.95" fill="rgb(139,34,8)" fill-opacity="0.75"/>
<polyline points="84.68,9.62 84.93,10.91 85.20,12.20 85.47,13.48 85.75,14.75 86.05,16.01 86.35,17.27 86.67,18.52 86.99,19.77 87.33,21.00 87.67,22.24 88.03,23.46 88.40,24.68 88.78,25.89 89.17,27.09 89.57,28.28 89.98,29.47 90.40,30.66 90.84,31.83 91.27,33.01 91.71,34.17 92.16,35.34 92.62,36.49 93.09,37.65 93.56,38.80 94.04,39.94 94.53,41.08 95.04,42.21 95.55,43.33 96.07,44.45 96.61,45.56 97.16,46.67 97.71,47.77 98.29,48.86 98.87,49.94 99.47,51.02 100.08,52.08 100.70,53.14 101.33,54.19 101.98,55.23 102.65,56.27 103.33,57.29 104.01,58.30 104.71,59.31 105.41,60.31 106.13,61.31 106.85,62.29 107.58,63.28 108.32,64.25 109.07,65.22 109.83,66.18 110.59,67.14 111.37,68.09 112.15,69.03 112.94,69.97 113.74,70.90 114.54,71.82 115.35,72.74 116.17,73.65 117.00,74.55 117.83,75.45 118.68,76.35 119.52,77.23 120.38,78.12 121.24,78.99 122.11,79.86 122.98,80.73 123.87,81.58 124.75,82.44 125.65,83.28 126.55,84.13 127.45,84.96 128.37,85.79 129.28,86.62 130.21,87.44 131.14,88.25 132.07,89.06 133.01,89.87 133.96,90.67 134.91,91.46 135.86,92.25 136.82,93.03 137.79,93.81 138.76,94.59 139.73,95.36 140.71,96.12 141.70,96.88 142.69,97.64 143.68,98.39 144.68,99.13 145.68,99.87 146.68,100.61 147.69,101.34 148.71,102.07 149.72,102.79 150.74,103.51 151.77,104.22 152.80,104.93 153.83,105.64 154.86,106.34 155.90,107.03 156.94,107.72 157.99,108.41 159.04,109.09 160.09,109.77 161.14,110.45 162.20,111.12 163.25,111.79 164.32,112.45 165.38,113.11 166.45,113.76 167.52,114.41 168.59,115.06 169.66,115.70 170.74,116.34 171.81,116.98 172.89,117.61 173.97,118.24 175.06,118.86 176.14,119.48 177.22,120.10 178.31,120.71 179.40,121.32 180.49,121.93 181.58,122.53 182.67,123.13 183.76,123.73 184.85,124.33 185.94,124.92 187.04,125.51 188.13,126.10 189.22,126.69 190.31,127.27 191.41,127.85 192.50,128.43 193.59,129.01 194.68,129.59 195.77,130.17 196.86,130.75 197.95,131.33 199.04,131.90 200.13,132.48 201.22,133.05 202.31,133.63 203.40,134.20 204.48,134.78 205.56,135.35 206.65,135.93 207.73,136.50 208.81,137.08 209.89,137.66 210.97,138.24 212.04,138.82 213.12,139.40 214.19,139.98 215.26,140.56 216.33,141.15 217.39,141.74 218.46,142.33 219.52,142.92 220.58,143.51 221.64,144.11 222.70,144.71 223.75,145.31 224.80,145.92 225.85,146.52 226.89,147.14 227.93,147.75 228.98,148.37 230.01,148.99 231.05,149.61 232.09,150.23 233.12,150.86 234.15,151.49 235.18,152.12 236.20,152.75 237.23,153.39 238.25,154.04 239.27,154.69 240.28,155.34 241.29,156.00 242.30,156.66 243.30,157.33 244.30,158.01 245.29,158.69 246.28,159.38 247.27,160.07 248.25,160.77 249.23,161.47 250.20,162.18 251.17,162.89 252.13,163.61 253.09,164.33 254.05,165.06 254.99,165.80 255.93,166.54 256.86,167.29 257.79,168.05 258.71,168.81 259.61,169.59 260.51,170.38 261.40,171.17 262.28,171.97 263.15,172.78 264.02,173.60 264.87,174.42 265.72,175.26 266.56,176.10 267.38,176.95 268.20,177.81 269.00,178.67 269.79,179.55 270.57,180.44 271.34,181.34 272.09,182.25 272.83,183.18 273.55,184.11 274.25,185.06 274.95,186.01 275.63,186.97 276.30,187.94 276.95,188.92 277.59,189.91 278.22,190.91 278.83,191.92 279.43,192.93 280.02,193.96 280.59,195.00 281.14,196.04 281.68,197.09 282.21,198.16 282.72,199.23 283.22,200.31 283.70,201.40 284.16,202.50 284.61,203.61 285.05,204.73 285.47,205.86 285.87,207.00 286.26,208.15 286.63,209.30 286.99,210.47 287.33,211.65 287.65,212.84 287.95,214.03 288.24,215.24 288.51,216.46 288.76,217.69 288.99,218.93 289.20,220.18 289.39,221.45 289.57,222.72 289.72,224.00 289.86,225.30 289.97,226.60 290.07,227.92 290.15,229.25 290.20,230.59 290.24,231.94 290.25,233.30" fill="none" stroke="rgb(130,30,5)" stroke-width="1.25"/>
</g>
<clipPath id="clip2"><rect x="362.50" y="9.30" width="218.00" height="224.00"/></clipPath>
<clipPath id="zclip2"><polygon points="385.34,9.64 385.61,10.83 385.89,12.02 386.18,13.22 386.48,14.41 386.78,15.59 387.09,16.77 387.41,17.95 387.74,19.13 388.07,20.30 388.41,21.47 388.75,22.64 389.10,23.81 389.46,24.97 389.83,26.12 390.20,27.28 390.58,28.43 390.97,29.58 391.36,30.72 391.76,31.86 392.16,33.00 392.58,34.14 393.00,35.27 393.42,36.40 393.85,37.52 394.29,38.64 394.74,39.76 395.19,40.88 395.65,41.99 396.11,43.10 396.59,44.20 397.06,45.30 397.55,46.40 398.04,47.49 398.53,48.59 399.04,49.67 399.54,50.76 400.06,51.84 400.58,52.92 401.11,53.99 401.64,55.06 402.18,56.13 402.72,57.19 403.28,58.25 403.83,59.31 404.40,60.36 404.97,61.41 405.54,62.46 406.12,63.50 406.71,64.54 407.30,65.57 407.90,66.61 408.50,67.63 409.11,68.66 409.73,69.68 410.35,70.70 410.98,71.71 411.61,72.72 412.25,73.73 412.89,74.73 413.54,75.73 414.19,76.72 414.85,77.72 415.52,78.70 416.19,79.69 416.86,80.67 417.54,81.65 418.23,82.62 418.92,83.59 419.62,84.55 420.32,85.52 421.03,86.47 421.74,87.43 422.46,88.38 423.18,89.33 423.91,90.27 424.65,91.21 425.38,92.14 426.13,93.07 426.88,94.00 427.63,94.92 428.39,95.84 429.15,96.76 429.92,97.67 430.69,98.58 431.47,99.48 432.25,100.38 433.04,101.28 433.83,102.17 434.62,103.06 435.43,103.94 436.23,104.82 437.04,105.70 437.86,106.57 438.68,107.44 439.50,108.31 440.33,109.17 441.16,110.02 442.00,110.87 442.84,111.72 443.69,112.57 444.54,113.41 445.39,114.24 446.25,115.07 447.11,115.90 447.98,116.73 448.85,117.54 449.73,118.36 450.61,119.17 451.49,119.98 452.38,120.78 453.28,121.58 454.18,122.36 455.10,123.13 456.03,123.89 456.97,124.63 457.92,125.37 458.87,126.09 459.84,126.80 460.81,127.51 461.79,128.20 462.78,128.89 463.77,129.56 464.76,130.23 465.76,130.90 466.77,131.56 467.78,132.21 468.79,132.86 469.80,133.50 470.81,134.14 471.83,134.78 472.85,135.41 473.87,136.04 474.89,136.67 475.91,137.30 476.93,137.92 477.95,138.55 478.96,139.18 479.98,139.81 481.00,140.43 482.02,141.06 483.03,141.69 484.04,142.33 485.06,142.96 486.07,143.60 487.07,144.24 488.08,144.88 489.09,145.52 490.11,146.15 491.12,146.78 492.14,147.40 493.16,148.03 494.19,148.64 495.21,149.26 496.24,149.87 497.27,150.47 498.31,151.07 499.34,151.67 500.38,152.27 501.42,152.85 502.47,153.44 503.52,154.02 504.57,154.60 505.62,155.17 506.67,155.74 507.73,156.30 508.79,156.86 509.85,157.42 510.91,157.98 511.97,158.53 513.04,159.09 514.10,159.64 515.17,160.19 516.23,160.74 517.30,161.29 518.36,161.84 519.43,162.38 520.49,162.93 521.56,163.48 522.62,164.03 523.68,164.58 524.74,165.14 525.79,165.69 526.85,166.25 527.90,166.81 528.95,167.37 530.00,167.93 531.05,168.50 532.09,169.07 533.13,169.65 534.16,170.23 535.19,170.81 536.22,171.40 537.24,171.99 538.26,172.59 539.28,173.20 540.29,173.81 541.29,174.43 542.29,175.05 543.28,175.68 544.27,176.32 545.25,176.97 546.22,177.62 547.19,178.28 548.15,178.96 549.11,179.64 550.05,180.33 550.99,181.03 551.92,181.74 552.84,182.47 553.76,183.20 554.66,183.94 555.56,184.70 556.45,185.47 557.32,186.25 558.19,187.04 559.05,187.85 559.90,188.67 560.74,189.50 561.57,190.34 562.38,191.20 563.19,192.08 563.99,192.97 564.77,193.87 565.54,194.79 566.30,195.73 567.05,196.68 567.78,197.64 568.50,198.62 569.21,199.61 569.90,200.61 570.58,201.63 571.24,202.66 571.88,203.70 572.50,204.75 573.11,205.81 573.70,206.88 574.27,207.96 574.82,209.06 575.34,210.16 575.85,211.26 576.34,212.38 576.80,213.50 577.24,214.63 577.66,215.77 578.05,216.92 578.42,218.06 578.77,219.22 579.08,220.38 579.38,221.54 579.64,222.71 579.88,223.88 580.08,225.05 580.26,226.23 580.41,227.40 580.53,228.58 580.62,229.76 580.68,230.94 580.71,232.12 580.70,233.30 580.30,233.30 579.91,232.12 579.51,230.95 579.08,229.79 578.64,228.65 578.18,227.51 577.70,226.39 577.21,225.28 576.69,224.18 576.16,223.10 575.62,222.02 575.06,220.96 574.48,219.90 573.89,218.86 573.28,217.83 572.65,216.81 572.02,215.80 571.36,214.81 570.70,213.82 570.02,212.85 569.32,211.88 568.61,210.93 567.89,209.99 567.16,209.06 566.42,208.14 565.66,207.23 564.89,206.33 564.11,205.44 563.32,204.57 562.52,203.70 561.70,202.84 560.88,202.00 560.05,201.16 559.20,200.34 558.35,199.52 557.49,198.72 556.62,197.93 555.74,197.14 554.85,196.37 553.95,195.60 553.05,194.85 552.14,194.11 551.22,193.37 550.29,192.65 549.36,191.93 548.42,191.22 547.48,190.52 546.52,189.83 545.56,189.15 544.60,188.47 543.63,187.81 542.65,187.15 541.67,186.49 540.68,185.85 539.69,185.21 538.69,184.57 537.68,183.95 536.68,183.32 535.66,182.71 534.65,182.10 533.62,181.49 532.60,180.89 531.57,180.30 530.54,179.71 529.50,179.12 528.46,178.54 527.42,177.96 526.38,177.38 525.33,176.81 524.28,176.24 523.22,175.68 522.17,175.12 521.11,174.55 520.05,174.00 518.99,173.44 517.93,172.88 516.87,172.33 515.80,171.78 514.74,171.23 513.67,170.68 512.61,170.13 511.54,169.58 510.47,169.03 509.41,168.48 508.34,167.93 507.27,167.38 506.20,166.84 505.13,166.29 504.06,165.76 502.98,165.22 501.91,164.68 500.83,164.15 499.76,163.61 498.68,163.08 497.61,162.55 496.54,162.01 495.46,161.48 494.39,160.94 493.32,160.41 492.25,159.87 491.18,159.32 490.11,158.78 489.04,158.23 487.98,157.68 486.91,157.13 485.85,156.57 484.79,156.00 483.73,155.45 482.66,154.90 481.58,154.37 480.50,153.84 479.41,153.32 478.32,152.80 477.22,152.28 476.12,151.76 475.03,151.24 473.94,150.70 472.85,150.16 471.77,149.60 470.71,149.02 469.65,148.42 468.62,147.80 467.59,147.16 466.56,146.52 465.54,145.87 464.52,145.22 463.50,144.56 462.49,143.90 461.48,143.22 460.48,142.54 459.48,141.86 458.48,141.16 457.49,140.46 456.51,139.74 455.53,139.02 454.56,138.28 453.60,137.54 452.64,136.78 451.70,136.01 450.77,135.23 449.84,134.43 448.93,133.62 448.03,132.80 447.12,131.98 446.23,131.15 445.33,130.32 444.44,129.48 443.56,128.64 442.68,127.79 441.80,126.94 440.93,126.08 440.06,125.22 439.19,124.36 438.33,123.49 437.47,122.61 436.62,121.74 435.77,120.85 434.93,119.97 434.09,119.07 433.26,118.18 432.43,117.28 431.60,116.37 430.78,115.46 429.97,114.55 429.16,113.63 428.35,112.71 427.55,111.78 426.76,110.85 425.97,109.91 425.19,108.97 424.41,108.03 423.64,107.08 422.87,106.13 422.11,105.17 421.35,104.21 420.60,103.24 419.86,102.27 419.12,101.30 418.39,100.32 417.66,99.34 416.94,98.35 416.22,97.36 415.52,96.37 414.81,95.37 414.12,94.37 413.43,93.37 412.74,92.36 412.06,91.34 411.39,90.33 410.72,89.31 410.06,88.28 409.41,87.25 408.77,86.22 408.14,85.18 407.52,84.13 406.91,83.07 406.31,82.01 405.73,80.94 405.15,79.87 404.59,78.79 404.03,77.71 403.48,76.62 402.94,75.53 402.41,74.44 401.89,73.34 401.38,72.24 400.87,71.14 400.37,70.03 399.87,68.92 399.38,67.81 398.89,66.70 398.41,65.59 397.93,64.47 397.45,63.36 396.97,62.24 396.50,61.13 396.03,60.01 395.57,58.89 395.12,57.76 394.67,56.64 394.23,55.51 393.80,54.38 393.37,53.24 392.95,52.11 392.53,50.97 392.12,49.83 391.72,48.68 391.33,47.54 390.94,46.39 390.56,45.24 390.18,44.08 389.81,42.93 389.45,41.77 389.09,40.61 388.74,39.45 388.40,38.29 388.06,37.12 387.73,35.95 387.41,34.78 387.09,33.61 386.78,32.44 386.47,31.26 386.17,30.08 385.88,28.91 385.59,27.72 385.31,26.54 385.04,25.35 384.77,24.17 384.51,22.98 384.25,21.79 384.01,20.60 383.76,19.40 383.53,18.21 383.30,17.01 383.07,15.81 382.85,14.61 382.64,13.40 382.43,12.20 382.23,10.99 382.04,9.79"/></clipPath>
<g clip-path="url(#clip2)">
<g clip-path="url(#zclip2)"><rect x="357.50" y="0" width="228.00" height="280" fill="url(#hatch2)"/></g>
<polyline points="385.00,9.30 385.22,10.44 385.44,11.58 385.67,12.73 385.91,13.88 386.15,15.02 386.39,16.17 386.65,17.33 386.91,18.48 387.17,19.63 387.44,20.79 387.72,21.94 388.00,23.10 388.29,24.26 388.58,25.41 388.88,26.57 389.19,27.73 389.50,28.89 389.82,30.05 390.14,31.21 390.47,32.37 390.81,33.53 391.15,34.69 391.50,35.84 391.85,37.00 392.22,38.16 392.58,39.32 392.96,40.47 393.33,41.63 393.72,42.78 394.11,43.93 394.51,45.08 394.91,46.23 395.32,47.38 395.74,48.53 396.16,49.67 396.59,50.82 397.02,51.96 397.46,53.10 397.91,54.23 398.37,55.37 398.83,56.50 399.29,57.63 399.77,58.76 400.25,59.88 400.73,61.01 401.22,62.13 401.72,63.24 402.23,64.35 402.74,65.46 403.26,66.57 403.78,67.67 404.31,68.77 404.85,69.87 405.39,70.96 405.94,72.05 406.50,73.13 407.06,74.21 407.63,75.28 408.21,76.35 408.79,77.42 409.38,78.48 409.98,79.54 410.58,80.59 411.19,81.64 411.81,82.68 412.43,83.72 413.06,84.75 413.70,85.78 414.34,86.80 414.99,87.81 415.65,88.82 416.31,89.82 416.98,90.82 417.66,91.81 418.34,92.80 419.04,93.78 419.73,94.75 420.44,95.72 421.15,96.68 421.87,97.63 422.59,98.58 423.33,99.52 424.06,100.45 424.81,101.38 425.56,102.29 426.32,103.20 427.09,104.11 427.86,105.00 428.64,105.89 429.43,106.78 430.23,107.65 431.03,108.52 431.83,109.38 432.64,110.24 433.46,111.09 434.29,111.93 435.12,112.77 435.96,113.60 436.80,114.42 437.65,115.24 438.51,116.05 439.37,116.85 440.24,117.65 441.11,118.44 441.99,119.23 442.87,120.01 443.76,120.78 444.65,121.55 445.55,122.32 446.46,123.08 447.37,123.83 448.29,124.58 449.21,125.32 450.13,126.05 451.06,126.79 452.00,127.51 452.94,128.23 453.88,128.95 454.83,129.66 455.79,130.37 456.75,131.07 457.71,131.76 458.68,132.46 459.65,133.14 460.63,133.83 461.61,134.50 462.59,135.18 463.58,135.85 464.57,136.51 465.57,137.17 466.57,137.83 467.57,138.48 468.58,139.13 469.59,139.78 470.61,140.42 471.63,141.06 472.65,141.69 473.68,142.32 474.70,142.95 475.74,143.57 476.77,144.19 477.81,144.81 478.85,145.42 479.89,146.03 480.94,146.64 481.99,147.24 483.04,147.84 484.10,148.44 485.16,149.03 486.22,149.62 487.28,150.21 488.34,150.80 489.41,151.38 490.48,151.96 491.55,152.54 492.63,153.12 493.70,153.69 494.78,154.26 495.86,154.83 496.94,155.40 498.03,155.97 499.11,156.53 500.20,157.09 501.29,157.65 502.38,158.21 503.47,158.77 504.56,159.33 505.65,159.89 506.74,160.44 507.83,161.00 508.92,161.56 510.01,162.12 511.10,162.67 512.18,163.23 513.27,163.79 514.36,164.35 515.44,164.91 516.53,165.48 517.61,166.04 518.69,166.61 519.77,167.18 520.84,167.75 521.91,168.32 522.98,168.89 524.05,169.47 525.12,170.06 526.18,170.64 527.23,171.23 528.29,171.82 529.34,172.42 530.38,173.02 531.43,173.62 532.46,174.23 533.50,174.84 534.53,175.46 535.55,176.08 536.57,176.71 537.58,177.34 538.59,177.98 539.59,178.63 540.59,179.28 541.57,179.94 542.56,180.60 543.54,181.27 544.51,181.95 545.47,182.63 546.43,183.33 547.37,184.03 548.32,184.73 549.25,185.45 550.18,186.17 551.10,186.90 552.01,187.64 552.91,188.39 553.80,189.14 554.68,189.91 555.56,190.69 556.43,191.47 557.28,192.26 558.13,193.07 558.97,193.88 559.80,194.70 560.61,195.54 561.42,196.38 562.21,197.24 562.99,198.10 563.77,198.97 564.53,199.86 565.27,200.76 566.01,201.66 566.73,202.58 567.44,203.51 568.13,204.45 568.81,205.41 569.48,206.37 570.13,207.34 570.77,208.33 571.39,209.33 572.00,210.34 572.59,211.37 573.17,212.40 573.73,213.45 574.27,214.51 574.80,215.59 575.31,216.67 575.80,217.77 576.27,218.88 576.73,220.01 577.17,221.15 577.59,222.30 577.99,223.47 578.38,224.65 578.74,225.84 579.08,227.05 579.41,228.27 579.71,229.51 580.00,230.76 580.26,232.02 580.50,233.30" fill="none" stroke="#000" stroke-width="1.35"/>
<polygon points="386.80,9.30 387.07,10.49 387.35,11.67 387.64,12.86 387.93,14.04 388.24,15.21 388.54,16.39 388.86,17.56 389.18,18.73 389.51,19.89 389.84,21.05 390.19,22.21 390.54,23.37 390.89,24.52 391.26,25.67 391.63,26.81 392.00,27.95 392.39,29.09 392.78,30.23 393.17,31.36 393.58,32.49 393.98,33.62 394.40,34.74 394.82,35.86 395.25,36.98 395.69,38.09 396.13,39.20 396.58,40.31 397.03,41.41 397.50,42.51 397.96,43.61 398.44,44.70 398.92,45.79 399.40,46.88 399.90,47.96 400.40,49.04 400.90,50.12 401.41,51.19 401.93,52.26 402.45,53.33 402.98,54.39 403.52,55.45 404.06,56.50 404.60,57.56 405.16,58.61 405.72,59.65 406.28,60.69 406.85,61.73 407.43,62.77 408.01,63.80 408.60,64.83 409.19,65.85 409.79,66.87 410.40,67.89 411.01,68.90 411.63,69.91 412.25,70.92 412.88,71.92 413.51,72.92 414.15,73.92 414.79,74.91 415.44,75.90 416.10,76.88 416.76,77.86 417.42,78.84 418.10,79.81 418.77,80.78 419.45,81.75 420.14,82.71 420.83,83.67 421.53,84.63 422.23,85.58 422.94,86.53 423.66,87.47 424.37,88.41 425.10,89.35 425.83,90.28 426.56,91.21 427.30,92.13 428.04,93.06 428.79,93.97 429.54,94.89 430.30,95.80 431.06,96.70 431.83,97.60 432.60,98.50 433.38,99.40 434.16,100.29 434.95,101.17 435.74,102.06 436.53,102.93 437.33,103.81 438.14,104.68 438.95,105.55 439.76,106.41 440.58,107.27 441.41,108.12 442.23,108.97 443.07,109.82 443.90,110.66 444.74,111.50 445.59,112.34 446.44,113.17 447.29,113.99 448.15,114.82 449.01,115.63 449.88,116.45 450.75,117.26 451.62,118.07 452.50,118.87 453.38,119.67 454.27,120.46 455.16,121.25 456.06,122.03 456.96,122.82 457.86,123.59 458.77,124.37 459.68,125.13 460.59,125.90 461.51,126.66 462.43,127.41 463.36,128.17 464.29,128.91 465.22,129.66 466.16,130.40 467.10,131.13 468.04,131.86 468.99,132.59 469.94,133.31 470.90,134.03 471.86,134.74 472.82,135.45 473.79,136.15 474.75,136.85 475.73,137.55 476.70,138.24 477.68,138.93 478.67,139.61 479.65,140.29 480.64,140.96 481.63,141.63 482.63,142.30 483.63,142.96 484.63,143.61 485.64,144.26 486.64,144.91 487.65,145.55 488.67,146.19 489.69,146.83 490.71,147.46 491.73,148.08 492.76,148.70 493.79,149.31 494.82,149.93 495.85,150.53 496.89,151.13 497.93,151.73 498.98,152.32 500.02,152.91 501.07,153.49 502.12,154.07 503.18,154.65 504.23,155.22 505.29,155.78 506.35,156.34 507.42,156.90 508.48,157.46 509.55,158.01 510.62,158.56 511.68,159.10 512.75,159.65 513.82,160.19 514.89,160.73 515.96,161.27 517.03,161.81 518.10,162.35 519.17,162.89 520.24,163.43 521.31,163.97 522.37,164.51 523.44,165.05 524.50,165.60 525.56,166.14 526.62,166.69 527.68,167.24 528.73,167.79 529.78,168.35 530.83,168.91 531.87,169.47 532.91,170.04 533.95,170.61 534.98,171.19 536.01,171.77 537.03,172.36 538.05,172.95 539.07,173.55 540.08,174.16 541.08,174.77 542.08,175.39 543.07,176.01 544.06,176.65 545.04,177.29 546.01,177.94 546.98,178.60 547.94,179.26 548.89,179.94 549.83,180.63 550.77,181.32 551.70,182.03 552.62,182.75 553.53,183.47 554.44,184.21 555.33,184.96 556.22,185.73 557.10,186.50 557.97,187.29 558.83,188.09 559.67,188.90 560.51,189.72 561.34,190.56 562.16,191.42 562.96,192.29 563.76,193.17 564.54,194.07 565.31,194.98 566.07,195.91 566.82,196.85 567.56,197.81 568.28,198.78 568.99,199.77 569.68,200.76 570.35,201.77 571.01,202.80 571.66,203.83 572.28,204.88 572.89,205.93 573.48,207.00 574.05,208.08 574.60,209.16 575.13,210.26 575.64,211.36 576.13,212.47 576.59,213.59 577.03,214.71 577.45,215.85 577.85,216.98 578.22,218.13 578.56,219.28 578.88,220.43 579.17,221.59 579.44,222.75 579.67,223.92 579.88,225.08 580.06,226.25 580.21,227.43 580.33,228.60 580.42,229.77 580.48,230.95 580.51,232.13 580.50,233.30 579.51,233.73 578.94,232.69 578.36,231.66 577.76,230.64 577.16,229.62 576.55,228.61 575.93,227.61 575.29,226.61 574.65,225.62 574.00,224.64 573.34,223.66 572.67,222.69 571.99,221.73 571.30,220.77 570.60,219.82 569.89,218.88 569.18,217.94 568.45,217.01 567.72,216.09 566.98,215.17 566.23,214.26 565.47,213.36 564.71,212.47 563.93,211.58 563.15,210.69 562.36,209.82 561.57,208.95 560.76,208.08 559.95,207.23 559.14,206.38 558.31,205.53 557.48,204.70 556.64,203.87 555.80,203.05 554.95,202.23 554.09,201.42 553.23,200.62 552.36,199.82 551.48,199.03 550.60,198.25 549.72,197.47 548.82,196.70 547.93,195.94 547.02,195.18 546.11,194.43 545.20,193.68 544.28,192.95 543.36,192.21 542.43,191.49 541.50,190.77 540.56,190.05 539.62,189.34 538.68,188.64 537.73,187.94 536.77,187.25 535.81,186.56 534.85,185.88 533.89,185.20 532.92,184.53 531.94,183.86 530.97,183.20 529.99,182.55 529.00,181.89 528.02,181.25 527.03,180.61 526.04,179.97 525.04,179.34 524.05,178.71 523.05,178.08 522.04,177.46 521.04,176.85 520.03,176.24 519.02,175.63 518.01,175.02 517.00,174.42 515.98,173.82 514.97,173.22 513.95,172.63 512.93,172.03 511.91,171.44 510.89,170.85 509.87,170.26 508.84,169.67 507.82,169.09 506.80,168.50 505.77,167.91 504.75,167.33 503.72,166.74 502.70,166.15 501.67,165.57 500.65,164.98 499.62,164.39 498.60,163.80 497.57,163.20 496.55,162.61 495.53,162.01 494.51,161.41 493.49,160.81 492.47,160.20 491.45,159.60 490.43,158.98 489.42,158.37 488.41,157.75 487.40,157.13 486.39,156.50 485.38,155.86 484.38,155.23 483.38,154.59 482.38,153.94 481.38,153.29 480.39,152.63 479.39,151.97 478.41,151.31 477.42,150.64 476.44,149.96 475.46,149.28 474.48,148.60 473.50,147.91 472.53,147.22 471.56,146.52 470.60,145.82 469.64,145.11 468.68,144.40 467.72,143.68 466.77,142.96 465.82,142.24 464.87,141.51 463.93,140.77 462.99,140.03 462.05,139.29 461.12,138.54 460.19,137.79 459.27,137.03 458.34,136.27 457.43,135.51 456.51,134.74 455.60,133.96 454.69,133.18 453.79,132.40 452.89,131.61 452.00,130.82 451.11,130.02 450.22,129.22 449.34,128.42 448.46,127.61 447.58,126.79 446.71,125.97 445.85,125.15 444.99,124.32 444.13,123.49 443.28,122.65 442.43,121.81 441.59,120.97 440.75,120.12 439.91,119.26 439.08,118.41 438.26,117.54 437.44,116.68 436.62,115.81 435.81,114.93 435.00,114.05 434.20,113.17 433.41,112.28 432.62,111.39 431.83,110.49 431.05,109.59 430.27,108.69 429.50,107.78 428.74,106.87 427.98,105.95 427.22,105.03 426.47,104.10 425.73,103.17 424.99,102.24 424.26,101.30 423.53,100.36 422.81,99.41 422.09,98.46 421.38,97.51 420.68,96.55 419.98,95.58 419.29,94.62 418.60,93.65 417.92,92.67 417.24,91.70 416.57,90.71 415.90,89.73 415.25,88.74 414.59,87.75 413.94,86.75 413.30,85.75 412.67,84.74 412.04,83.74 411.41,82.72 410.80,81.71 410.18,80.69 409.58,79.67 408.98,78.64 408.38,77.61 407.79,76.58 407.21,75.55 406.64,74.51 406.07,73.46 405.50,72.42 404.94,71.37 404.39,70.32 403.85,69.26 403.31,68.20 402.77,67.14 402.24,66.07 401.72,65.01 401.21,63.93 400.70,62.86 400.20,61.78 399.70,60.70 399.21,59.62 398.73,58.53 398.25,57.44 397.78,56.35 397.31,55.26 396.85,54.16 396.40,53.06 395.96,51.95 395.52,50.85 395.08,49.74 394.66,48.63 394.24,47.51 393.82,46.40 393.42,45.28 393.02,44.15 392.62,43.03 392.24,41.90 391.85,40.77 391.48,39.64 391.11,38.51 390.75,37.37 390.40,36.23 390.05,35.09 389.71,33.95 389.37,32.80 389.05,31.65 388.72,30.50 388.41,29.35 388.10,28.19 387.80,27.04 387.51,25.88 387.22,24.72 386.94,23.55 386.67,22.39 386.40,21.22 386.14,20.05 385.89,18.88 385.64,17.71 385.40,16.53 385.17,15.36 384.94,14.18 384.72,13.00 384.51,11.81 384.31,10.63 384.11,9.45" fill="rgb(30,144,255)" fill-opacity="0.45"/>
<polyline points="385.80,9.30 386.00,10.51 386.20,11.72 386.42,12.92 386.64,14.12 386.87,15.32 387.11,16.52 387.35,17.71 387.61,18.90 387.87,20.09 388.14,21.27 388.41,22.45 388.70,23.62 388.99,24.80 389.29,25.97 389.60,27.14 389.92,28.30 390.24,29.46 390.57,30.62 390.91,31.77 391.25,32.92 391.61,34.07 391.97,35.22 392.33,36.36 392.71,37.50 393.09,38.63 393.48,39.76 393.88,40.89 394.28,42.01 394.69,43.14 395.11,44.25 395.54,45.37 395.97,46.48 396.41,47.59 396.85,48.69 397.31,49.79 397.77,50.89 398.24,51.98 398.71,53.07 399.19,54.16 399.68,55.24 400.17,56.32 400.67,57.40 401.18,58.47 401.69,59.54 402.22,60.61 402.74,61.67 403.28,62.73 403.82,63.78 404.36,64.83 404.92,65.88 405.48,66.93 406.04,67.97 406.62,69.00 407.20,70.03 407.78,71.06 408.37,72.09 408.97,73.11 409.57,74.13 410.18,75.14 410.80,76.15 411.42,77.16 412.05,78.16 412.68,79.16 413.32,80.16 413.97,81.15 414.62,82.14 415.28,83.12 415.94,84.10 416.61,85.08 417.28,86.05 417.97,87.01 418.65,87.98 419.34,88.94 420.04,89.90 420.74,90.85 421.45,91.80 422.17,92.74 422.89,93.68 423.61,94.62 424.34,95.55 425.08,96.48 425.82,97.40 426.56,98.32 427.32,99.24 428.07,100.15 428.83,101.06 429.60,101.96 430.37,102.86 431.15,103.75 431.93,104.64 432.72,105.53 433.51,106.41 434.31,107.29 435.11,108.17 435.92,109.04 436.73,109.90 437.55,110.76 438.37,111.62 439.20,112.47 440.03,113.32 440.86,114.17 441.70,115.01 442.55,115.84 443.40,116.67 444.25,117.50 445.11,118.32 445.97,119.14 446.84,119.95 447.71,120.76 448.59,121.57 449.47,122.37 450.36,123.16 451.24,123.96 452.14,124.74 453.04,125.53 453.94,126.30 454.84,127.08 455.75,127.85 456.67,128.61 457.58,129.37 458.51,130.13 459.43,130.88 460.36,131.62 461.30,132.36 462.23,133.10 463.17,133.83 464.12,134.56 465.07,135.28 466.02,136.00 466.98,136.71 467.94,137.42 468.90,138.13 469.87,138.83 470.84,139.52 471.81,140.21 472.79,140.89 473.77,141.57 474.76,142.25 475.74,142.92 476.73,143.59 477.73,144.25 478.73,144.90 479.73,145.55 480.73,146.20 481.74,146.84 482.75,147.48 483.76,148.11 484.78,148.74 485.80,149.36 486.82,149.97 487.85,150.59 488.87,151.19 489.90,151.79 490.94,152.39 491.98,152.98 493.02,153.57 494.06,154.15 495.10,154.73 496.15,155.30 497.20,155.87 498.25,156.43 499.31,156.99 500.36,157.54 501.42,158.09 502.48,158.64 503.55,159.18 504.61,159.72 505.67,160.26 506.74,160.80 507.80,161.34 508.87,161.88 509.94,162.41 511.00,162.95 512.07,163.49 513.14,164.02 514.20,164.56 515.27,165.10 516.33,165.65 517.40,166.19 518.46,166.74 519.52,167.29 520.58,167.84 521.63,168.40 522.69,168.96 523.74,169.53 524.79,170.10 525.84,170.68 526.89,171.26 527.93,171.85 528.97,172.44 530.01,173.04 531.04,173.65 532.07,174.26 533.09,174.88 534.11,175.51 535.13,176.14 536.14,176.78 537.15,177.42 538.15,178.08 539.15,178.74 540.14,179.40 541.13,180.08 542.11,180.76 543.08,181.45 544.05,182.15 545.01,182.85 545.97,183.56 546.92,184.28 547.86,185.01 548.80,185.75 549.73,186.50 550.65,187.25 551.56,188.01 552.47,188.78 553.37,189.56 554.26,190.35 555.14,191.15 556.01,191.96 556.88,192.78 557.73,193.60 558.58,194.44 559.41,195.28 560.24,196.14 561.05,197.00 561.86,197.87 562.65,198.75 563.43,199.65 564.20,200.55 564.96,201.46 565.71,202.38 566.44,203.31 567.16,204.25 567.87,205.19 568.56,206.15 569.24,207.12 569.90,208.10 570.55,209.08 571.19,210.08 571.81,211.09 572.41,212.10 573.00,213.13 573.57,214.17 574.13,215.21 574.67,216.27 575.19,217.33 575.69,218.41 576.18,219.49 576.64,220.59 577.09,221.69 577.52,222.81 577.94,223.94 578.33,225.07 578.70,226.22 579.05,227.37 579.38,228.54 579.69,229.71 579.98,230.90 580.25,232.09 580.50,233.30" fill="none" stroke="rgb(30,144,255)" stroke-width="1.25"/>
<polyline points="520.84,167.75 521.91,168.32 522.98,168.89 524.05,169.47 525.12,170.06 526.18,170.64 527.23,171.23 528.29,171.82 529.34,172.42 530.38,173.02 531.43,173.62 532.46,174.23 533.50,174.84 534.53,175.46 535.55,176.08 536.57,176.71 537.58,177.34 538.59,177.98 539.59,178.63 540.59,179.28 541.57,179.94 542.56,180.60 543.54,181.27 544.51,181.95 545.47,182.63 546.43,183.33 547.37,184.03 548.32,184.73 549.25,185.45 550.18,186.17 551.10,186.90 552.01,187.64 552.91,188.39 553.80,189.14 554.68,189.91 555.56,190.69 556.43,191.47 557.28,192.26 558.13,193.07 558.97,193.88 559.80,194.70 560.61,195.54 561.42,196.38 562.21,197.24 562.99,198.10 563.77,198.97 564.53,199.86 565.27,200.76 566.01,201.66 566.73,202.58 567.44,203.51 568.13,204.45 568.81,205.41 569.48,206.37 570.13,207.34 570.77,208.33 571.39,209.33 572.00,210.34 572.59,211.37 573.17,212.40 573.73,213.45 574.27,214.51 574.80,215.59 575.31,216.67 575.80,217.77 576.27,218.88 576.73,220.01 577.17,221.15 577.59,222.30 577.99,223.47 578.38,224.65 578.74,225.84 579.08,227.05 579.41,228.27 579.71,229.51 580.00,230.76 580.26,232.02 580.50,233.30" fill="none" stroke="#000" stroke-opacity="0.6" stroke-width="0.8"/>
<polygon points="388.20,9.30 388.46,10.47 388.72,11.64 388.99,12.80 389.26,13.97 389.55,15.12 389.84,16.28 390.14,17.43 390.44,18.57 390.76,19.72 391.08,20.85 391.40,21.99 391.74,23.12 392.08,24.25 392.43,25.37 392.78,26.50 393.14,27.61 393.51,28.73 393.89,29.84 394.27,30.94 394.66,32.05 395.06,33.15 395.46,34.24 395.87,35.34 396.28,36.43 396.71,37.51 397.13,38.60 397.57,39.67 398.01,40.75 398.46,41.82 398.91,42.89 399.37,43.96 399.84,45.02 400.31,46.08 400.79,47.13 401.27,48.18 401.77,49.23 402.26,50.27 402.77,51.32 403.28,52.35 403.79,53.39 404.31,54.42 404.84,55.45 405.37,56.47 405.91,57.49 406.45,58.51 407.00,59.53 407.56,60.54 408.12,61.54 408.68,62.55 409.26,63.55 409.83,64.55 410.42,65.54 411.01,66.54 411.60,67.52 412.20,68.51 412.80,69.49 413.41,70.47 414.03,71.44 414.65,72.42 415.27,73.39 415.90,74.35 416.54,75.31 417.18,76.27 417.82,77.23 418.47,78.18 419.13,79.13 419.79,80.08 420.45,81.02 421.12,81.97 421.80,82.90 422.47,83.84 423.16,84.77 423.85,85.70 424.54,86.62 425.24,87.54 425.94,88.46 426.64,89.38 427.35,90.29 428.07,91.20 428.79,92.11 429.51,93.01 430.24,93.91 430.97,94.81 431.71,95.71 432.45,96.60 433.19,97.49 433.94,98.37 434.69,99.26 435.45,100.14 436.21,101.01 436.98,101.89 437.74,102.76 438.52,103.63 439.29,104.49 440.07,105.35 440.85,106.21 441.64,107.07 442.43,107.92 443.23,108.77 444.02,109.62 444.82,110.47 445.63,111.31 446.44,112.15 447.25,112.99 448.06,113.82 448.88,114.65 449.70,115.48 450.53,116.30 451.35,117.13 452.19,117.95 453.02,118.76 453.86,119.58 454.70,120.39 455.54,121.20 456.39,122.00 457.24,122.81 458.09,123.61 458.94,124.41 459.80,125.20 460.66,125.99 461.52,126.78 462.39,127.57 463.26,128.36 464.13,129.14 465.00,129.92 465.88,130.69 466.75,131.47 467.63,132.24 468.52,133.01 469.40,133.77 470.29,134.54 471.18,135.30 472.07,136.05 472.97,136.81 473.87,137.56 474.76,138.31 475.66,139.06 476.57,139.81 477.47,140.55 478.38,141.29 479.29,142.03 480.20,142.76 481.11,143.50 482.03,144.23 482.94,144.95 483.86,145.68 484.78,146.40 485.70,147.12 486.62,147.84 487.55,148.56 488.47,149.27 489.40,149.99 490.33,150.70 491.25,151.41 492.18,152.11 493.12,152.82 494.05,153.53 494.98,154.23 495.91,154.93 496.85,155.63 497.78,156.33 498.72,157.03 499.66,157.73 500.59,158.42 501.53,159.12 502.47,159.81 503.41,160.51 504.35,161.20 505.28,161.89 506.22,162.59 507.16,163.28 508.10,163.97 509.04,164.66 509.98,165.35 510.92,166.05 511.86,166.74 512.79,167.43 513.73,168.12 514.67,168.81 515.61,169.51 516.54,170.20 517.48,170.89 518.41,171.59 519.35,172.28 520.28,172.98 521.21,173.68 522.14,174.37 523.07,175.07 524.00,175.77 524.93,176.47 525.86,177.18 526.78,177.88 527.71,178.58 528.63,179.29 529.55,180.00 530.47,180.71 531.39,181.42 532.31,182.13 533.22,182.85 534.14,183.57 535.05,184.29 535.96,185.01 536.86,185.73 537.77,186.46 538.67,187.19 539.57,187.92 540.47,188.65 541.37,189.39 542.26,190.13 543.16,190.87 544.05,191.61 544.93,192.36 545.82,193.11 546.70,193.86 547.58,194.62 548.45,195.38 549.33,196.14 550.20,196.91 551.06,197.68 551.92,198.46 552.78,199.24 553.64,200.02 554.49,200.81 555.33,201.60 556.18,202.39 557.01,203.20 557.84,204.00 558.67,204.81 559.49,205.63 560.31,206.45 561.12,207.28 561.92,208.11 562.72,208.95 563.51,209.79 564.29,210.65 565.07,211.50 565.83,212.37 566.60,213.24 567.35,214.11 568.10,215.00 568.83,215.89 569.56,216.79 570.29,217.69 571.00,218.60 571.70,219.52 572.40,220.45 573.08,221.39 573.76,222.33 574.42,223.29 575.08,224.25 575.73,225.22 576.36,226.20 576.99,227.18 577.60,228.18 578.20,229.18 578.79,230.20 579.38,231.22 579.94,232.26 580.50,233.30 580.24,233.44 579.66,232.41 579.07,231.40 578.47,230.39 577.85,229.39 577.23,228.40 576.60,227.42 575.96,226.45 575.31,225.49 574.64,224.54 573.97,223.60 573.29,222.66 572.60,221.74 571.91,220.82 571.20,219.91 570.48,219.00 569.76,218.10 569.03,217.21 568.29,216.33 567.55,215.46 566.79,214.59 566.03,213.73 565.26,212.87 564.49,212.02 563.70,211.18 562.91,210.35 562.11,209.52 561.31,208.70 560.49,207.88 559.67,207.07 558.85,206.27 558.02,205.48 557.18,204.69 556.33,203.90 555.48,203.12 554.63,202.35 553.77,201.58 552.90,200.82 552.03,200.06 551.16,199.31 550.28,198.56 549.39,197.82 548.50,197.08 547.61,196.35 546.71,195.62 545.81,194.90 544.90,194.18 543.99,193.48 543.07,192.77 542.15,192.08 541.22,191.39 540.29,190.70 539.35,190.02 538.41,189.34 537.47,188.67 536.53,188.00 535.58,187.33 534.64,186.67 533.69,186.01 532.74,185.35 531.78,184.69 530.83,184.03 529.88,183.37 528.92,182.72 527.97,182.06 527.01,181.40 526.05,180.75 525.09,180.10 524.13,179.46 523.16,178.81 522.20,178.17 521.23,177.53 520.26,176.89 519.28,176.25 518.31,175.62 517.34,174.98 516.36,174.34 515.39,173.71 514.41,173.07 513.44,172.44 512.46,171.80 511.49,171.16 510.51,170.52 509.54,169.88 508.56,169.24 507.59,168.60 506.62,167.95 505.64,167.31 504.67,166.66 503.70,166.00 502.74,165.35 501.77,164.69 500.81,164.02 499.85,163.36 498.88,162.69 497.92,162.02 496.96,161.35 496.00,160.67 495.04,160.00 494.08,159.32 493.13,158.65 492.17,157.97 491.21,157.28 490.25,156.60 489.30,155.91 488.35,155.22 487.39,154.53 486.44,153.84 485.49,153.14 484.54,152.44 483.59,151.74 482.65,151.03 481.70,150.32 480.76,149.61 479.82,148.90 478.88,148.18 477.94,147.45 477.01,146.73 476.07,146.00 475.14,145.27 474.22,144.53 473.29,143.79 472.37,143.04 471.45,142.30 470.53,141.54 469.62,140.79 468.71,140.03 467.80,139.27 466.89,138.51 465.98,137.74 465.08,136.97 464.18,136.20 463.28,135.42 462.39,134.64 461.49,133.86 460.60,133.08 459.71,132.29 458.83,131.50 457.94,130.70 457.06,129.91 456.19,129.11 455.31,128.31 454.44,127.50 453.57,126.69 452.70,125.88 451.84,125.07 450.98,124.25 450.12,123.43 449.27,122.60 448.42,121.78 447.57,120.95 446.73,120.11 445.89,119.28 445.05,118.44 444.21,117.59 443.38,116.75 442.56,115.90 441.73,115.05 440.91,114.19 440.10,113.33 439.28,112.47 438.48,111.60 437.67,110.73 436.87,109.86 436.07,108.98 435.28,108.10 434.49,107.22 433.71,106.33 432.93,105.44 432.15,104.54 431.38,103.65 430.62,102.75 429.85,101.84 429.10,100.93 428.34,100.02 427.59,99.11 426.85,98.19 426.11,97.27 425.37,96.34 424.64,95.41 423.91,94.48 423.19,93.55 422.47,92.61 421.76,91.67 421.05,90.72 420.35,89.77 419.65,88.82 418.96,87.87 418.27,86.91 417.58,85.95 416.90,84.98 416.23,84.01 415.56,83.04 414.90,82.06 414.25,81.08 413.60,80.09 412.96,79.10 412.32,78.11 411.69,77.11 411.07,76.11 410.45,75.11 409.84,74.10 409.23,73.09 408.63,72.07 408.04,71.05 407.45,70.03 406.86,69.01 406.29,67.98 405.71,66.95 405.15,65.91 404.59,64.88 404.03,63.84 403.48,62.79 402.93,61.75 402.39,60.70 401.86,59.64 401.32,58.59 400.80,57.53 400.28,56.47 399.77,55.41 399.26,54.34 398.76,53.27 398.26,52.19 397.77,51.12 397.29,50.03 396.81,48.95 396.34,47.86 395.88,46.77 395.42,45.68 394.97,44.58 394.52,43.48 394.08,42.37 393.65,41.27 393.23,40.15 392.81,39.04 392.40,37.92 392.00,36.80 391.61,35.67 391.22,34.54 390.84,33.41 390.47,32.27 390.11,31.13 389.75,29.99 389.41,28.84 389.07,27.69 388.74,26.53 388.41,25.37 388.10,24.21 387.79,23.04 387.50,21.87 387.21,20.70 386.93,19.52 386.65,18.34 386.39,17.16 386.13,15.97 385.88,14.78 385.64,13.59 385.41,12.39 385.19,11.19 384.98,10.00" fill="rgb(139,34,8)" fill-opacity="0.75"/>
<polyline points="386.59,9.65 386.82,10.83 387.06,12.02 387.31,13.20 387.57,14.37 387.84,15.55 388.11,16.72 388.40,17.88 388.68,19.05 388.98,20.21 389.29,21.36 389.60,22.52 389.92,23.67 390.25,24.81 390.58,25.95 390.93,27.09 391.28,28.23 391.63,29.36 392.00,30.48 392.37,31.61 392.75,32.73 393.14,33.84 393.53,34.96 393.94,36.07 394.34,37.17 394.76,38.28 395.18,39.37 395.61,40.47 396.05,41.56 396.49,42.65 396.94,43.74 397.39,44.82 397.86,45.89 398.33,46.97 398.80,48.04 399.28,49.11 399.77,50.17 400.26,51.23 400.76,52.29 401.27,53.35 401.78,54.40 402.30,55.44 402.82,56.49 403.35,57.53 403.88,58.57 404.42,59.60 404.97,60.64 405.52,61.66 406.07,62.69 406.64,63.71 407.20,64.73 407.77,65.75 408.35,66.76 408.93,67.77 409.52,68.78 410.12,69.78 410.72,70.78 411.32,71.78 411.93,72.77 412.55,73.76 413.17,74.75 413.80,75.73 414.43,76.71 415.07,77.69 415.71,78.66 416.36,79.63 417.02,80.60 417.68,81.56 418.34,82.52 419.01,83.47 419.69,84.43 420.37,85.37 421.06,86.32 421.75,87.26 422.44,88.20 423.14,89.13 423.85,90.07 424.56,90.99 425.27,91.92 425.99,92.84 426.71,93.76 427.44,94.68 428.17,95.59 428.91,96.50 429.65,97.41 430.39,98.31 431.14,99.21 431.90,100.11 432.65,101.00 433.42,101.89 434.18,102.78 434.95,103.66 435.73,104.54 436.50,105.42 437.29,106.30 438.07,107.17 438.86,108.04 439.66,108.90 440.45,109.76 441.26,110.62 442.06,111.48 442.87,112.33 443.68,113.18 444.50,114.02 445.32,114.87 446.14,115.71 446.97,116.54 447.79,117.38 448.63,118.21 449.46,119.04 450.30,119.86 451.15,120.68 451.99,121.50 452.84,122.32 453.69,123.13 454.55,123.94 455.40,124.75 456.26,125.56 457.13,126.36 457.99,127.16 458.86,127.95 459.73,128.74 460.61,129.53 461.48,130.32 462.36,131.11 463.25,131.89 464.13,132.67 465.02,133.44 465.91,134.22 466.80,134.99 467.69,135.76 468.59,136.52 469.49,137.28 470.39,138.04 471.29,138.80 472.20,139.55 473.11,140.31 474.02,141.05 474.93,141.80 475.84,142.54 476.76,143.28 477.68,144.01 478.60,144.75 479.53,145.48 480.45,146.20 481.38,146.93 482.31,147.65 483.24,148.36 484.17,149.08 485.11,149.79 486.04,150.50 486.98,151.21 487.92,151.91 488.86,152.61 489.80,153.32 490.74,154.01 491.69,154.71 492.63,155.40 493.57,156.10 494.52,156.79 495.47,157.48 496.41,158.17 497.36,158.85 498.31,159.54 499.26,160.22 500.21,160.90 501.16,161.59 502.11,162.27 503.06,162.94 504.01,163.62 504.96,164.29 505.92,164.97 506.87,165.64 507.83,166.31 508.78,166.98 509.74,167.64 510.70,168.31 511.65,168.98 512.61,169.64 513.57,170.31 514.52,170.97 515.48,171.64 516.43,172.30 517.39,172.97 518.34,173.63 519.30,174.30 520.25,174.96 521.20,175.63 522.15,176.30 523.10,176.97 524.05,177.64 524.99,178.32 525.94,178.99 526.88,179.67 527.82,180.35 528.76,181.03 529.70,181.71 530.63,182.40 531.57,183.08 532.50,183.77 533.44,184.46 534.37,185.15 535.30,185.84 536.22,186.53 537.15,187.23 538.07,187.93 538.99,188.63 539.91,189.34 540.83,190.04 541.74,190.76 542.65,191.47 543.56,192.19 544.46,192.92 545.36,193.65 546.25,194.38 547.15,195.12 548.03,195.86 548.91,196.61 549.79,197.36 550.67,198.12 551.54,198.88 552.41,199.65 553.27,200.42 554.13,201.19 554.98,201.97 555.83,202.76 556.67,203.55 557.51,204.34 558.34,205.14 559.17,205.95 559.99,206.76 560.80,207.58 561.61,208.40 562.41,209.23 563.21,210.07 564.00,210.91 564.78,211.76 565.55,212.62 566.31,213.48 567.07,214.35 567.82,215.23 568.56,216.11 569.30,217.00 570.02,217.90 570.74,218.80 571.45,219.72 572.15,220.64 572.84,221.56 573.53,222.50 574.20,223.44 574.86,224.39 575.52,225.36 576.16,226.32 576.79,227.30 577.42,228.29 578.03,229.29 578.63,230.29 579.22,231.31 579.80,232.33 580.37,233.37" fill="none" stroke="rgb(130,30,5)" stroke-width="1.25"/>
</g>
<rect x="248" y="35.4" width="24.6" height="8.1" fill="rgb(30,144,255)" fill-opacity="0.45"/>
<rect x="248" y="51.1" width="24.6" height="8.1" fill="rgb(128,28,15)" fill-opacity="0.75"/>
<g style="filter:grayscale(1)">
<rect x="72.50" y="9.30" width="218.00" height="224.00" fill="none" stroke="#000" stroke-width="1"/>
<path d="M72.50 233.30v-6.00M72.50 9.30v6.00M94.30 233.30v-3.00M94.30 9.30v3.00M116.10 233.30v-6.00M116.10 9.30v6.00M137.90 233.30v-3.00M137.90 9.30v3.00M159.70 233.30v-6.00M159.70 9.30v6.00M181.50 233.30v-3.00M181.50 9.30v3.00M203.30 233.30v-6.00M203.30 9.30v6.00M225.10 233.30v-3.00M225.10 9.30v3.00M246.90 233.30v-6.00M246.90 9.30v6.00M268.70 233.30v-3.00M268.70 9.30v3.00M290.50 233.30v-6.00M290.50 9.30v6.00M72.50 233.30h6M290.50 233.30h-6M72.50 205.30h6M290.50 205.30h-6M72.50 177.30h6M290.50 177.30h-6M72.50 149.30h6M290.50 149.30h-6M72.50 121.30h6M290.50 121.30h-6M72.50 93.30h6M290.50 93.30h-6M72.50 65.30h6M290.50 65.30h-6M72.50 37.30h6M290.50 37.30h-6M72.50 9.30h6M290.50 9.30h-6" stroke="#000" stroke-width="1" fill="none"/>
<text x="62.40" y="237.40" text-anchor="end" class="tk" textLength="8.77" lengthAdjust="spacingAndGlyphs">0</text>
<text x="62.40" y="209.40" text-anchor="end" class="tk" textLength="30.70" lengthAdjust="spacingAndGlyphs">0.05</text>
<text x="62.40" y="181.40" text-anchor="end" class="tk" textLength="21.93" lengthAdjust="spacingAndGlyphs">0.1</text>
<text x="62.40" y="153.40" text-anchor="end" class="tk" textLength="30.70" lengthAdjust="spacingAndGlyphs">0.15</text>
<text x="62.40" y="125.40" text-anchor="end" class="tk" textLength="21.93" lengthAdjust="spacingAndGlyphs">0.2</text>
<text x="62.40" y="97.40" text-anchor="end" class="tk" textLength="30.70" lengthAdjust="spacingAndGlyphs">0.25</text>
<text x="62.40" y="69.40" text-anchor="end" class="tk" textLength="21.93" lengthAdjust="spacingAndGlyphs">0.3</text>
<text x="62.40" y="41.40" text-anchor="end" class="tk" textLength="30.70" lengthAdjust="spacingAndGlyphs">0.35</text>
<text x="62.40" y="13.40" text-anchor="end" class="tk" textLength="21.93" lengthAdjust="spacingAndGlyphs">0.4</text>
<text x="72.20" y="254.00" text-anchor="middle" class="tk" textLength="8.77" lengthAdjust="spacingAndGlyphs">0</text>
<text x="115.80" y="254.00" text-anchor="middle" class="tk" textLength="21.93" lengthAdjust="spacingAndGlyphs">0.2</text>
<text x="159.40" y="254.00" text-anchor="middle" class="tk" textLength="21.93" lengthAdjust="spacingAndGlyphs">0.4</text>
<text x="203.00" y="254.00" text-anchor="middle" class="tk" textLength="21.93" lengthAdjust="spacingAndGlyphs">0.6</text>
<text x="246.60" y="254.00" text-anchor="middle" class="tk" textLength="21.93" lengthAdjust="spacingAndGlyphs">0.8</text>
<text x="290.20" y="254.00" text-anchor="middle" class="tk" textLength="8.77" lengthAdjust="spacingAndGlyphs">1</text>
<text x="181.50" y="266.00" text-anchor="middle" class="tk" textLength="7.24" lengthAdjust="spacingAndGlyphs">z</text>
<rect x="362.50" y="9.30" width="218.00" height="224.00" fill="none" stroke="#000" stroke-width="1"/>
<path d="M362.50 233.30v-6.00M362.50 9.30v6.00M384.30 233.30v-3.00M384.30 9.30v3.00M406.10 233.30v-6.00M406.10 9.30v6.00M427.90 233.30v-3.00M427.90 9.30v3.00M449.70 233.30v-6.00M449.70 9.30v6.00M471.50 233.30v-3.00M471.50 9.30v3.00M493.30 233.30v-6.00M493.30 9.30v6.00M515.10 233.30v-3.00M515.10 9.30v3.00M536.90 233.30v-6.00M536.90 9.30v6.00M558.70 233.30v-3.00M558.70 9.30v3.00M580.50 233.30v-6.00M580.50 9.30v6.00M362.50 233.30h6M580.50 233.30h-6M362.50 205.30h6M580.50 205.30h-6M362.50 177.30h6M580.50 177.30h-6M362.50 149.30h6M580.50 149.30h-6M362.50 121.30h6M580.50 121.30h-6M362.50 93.30h6M580.50 93.30h-6M362.50 65.30h6M580.50 65.30h-6M362.50 37.30h6M580.50 37.30h-6M362.50 9.30h6M580.50 9.30h-6" stroke="#000" stroke-width="1" fill="none"/>
<text x="352.40" y="237.40" text-anchor="end" class="tk" textLength="8.77" lengthAdjust="spacingAndGlyphs">0</text>
<text x="352.40" y="209.40" text-anchor="end" class="tk" textLength="30.70" lengthAdjust="spacingAndGlyphs">0.05</text>
<text x="352.40" y="181.40" text-anchor="end" class="tk" textLength="21.93" lengthAdjust="spacingAndGlyphs">0.1</text>
<text x="352.40" y="153.40" text-anchor="end" class="tk" textLength="30.70" lengthAdjust="spacingAndGlyphs">0.15</text>
<text x="352.40" y="125.40" text-anchor="end" class="tk" textLength="21.93" lengthAdjust="spacingAndGlyphs">0.2</text>
<text x="352.40" y="97.40" text-anchor="end" class="tk" textLength="30.70" lengthAdjust="spacingAndGlyphs">0.25</text>
<text x="352.40" y="69.40" text-anchor="end" class="tk" textLength="21.93" lengthAdjust="spacingAndGlyphs">0.3</text>
<text x="352.40" y="41.40" text-anchor="end" class="tk" textLength="30.70" lengthAdjust="spacingAndGlyphs">0.35</text>
<text x="352.40" y="13.40" text-anchor="end" class="tk" textLength="21.93" lengthAdjust="spacingAndGlyphs">0.4</text>
<text x="362.20" y="254.00" text-anchor="middle" class="tk" textLength="8.77" lengthAdjust="spacingAndGlyphs">0</text>
<text x="405.80" y="254.00" text-anchor="middle" class="tk" textLength="21.93" lengthAdjust="spacingAndGlyphs">0.2</text>
<text x="449.40" y="254.00" text-anchor="middle" class="tk" textLength="21.93" lengthAdjust="spacingAndGlyphs">0.4</text>
<text x="493.00" y="254.00" text-anchor="middle" class="tk" textLength="21.93" lengthAdjust="spacingAndGlyphs">0.6</text>
<text x="536.60" y="254.00" text-anchor="middle" class="tk" textLength="21.93" lengthAdjust="spacingAndGlyphs">0.8</text>
<text x="580.20" y="254.00" text-anchor="middle" class="tk" textLength="8.77" lengthAdjust="spacingAndGlyphs">1</text>
<text x="471.50" y="266.00" text-anchor="middle" class="tk" textLength="7.24" lengthAdjust="spacingAndGlyphs">z</text>
<text x="0.00" y="0.00" text-anchor="middle" class="tk" textLength="16.00" lengthAdjust="spacingAndGlyphs" transform="translate(24.6,121.3) rotate(-90)">zg</text>
<text x="239.00" y="27.80" text-anchor="end" class="tk" textLength="54.82" lengthAdjust="spacingAndGlyphs">ZEUS-SJ</text>
<text x="239.00" y="43.40" text-anchor="end" class="tk" textLength="30.31" lengthAdjust="spacingAndGlyphs">Fit S</text>
<text x="239.00" y="58.90" text-anchor="end" class="tk" textLength="31.18" lengthAdjust="spacingAndGlyphs">Fit C</text>
<rect x="248" y="19" width="25" height="8.8" fill="url(#hatch)"/>
<text x="127.0" y="215.4" class="mu">μ<tspan class="sup" dy="-4.2">2</tspan><tspan dy="4.2"> = 6 GeV</tspan><tspan class="sup" dy="-4.2">2</tspan></text>
<text x="408.7" y="215.4" class="mu">μ<tspan class="sup" dy="-4.2">2</tspan><tspan dy="4.2"> = 20 GeV</tspan><tspan class="sup" dy="-4.2">2</tspan></text>
</g>
</svg></body></html>
